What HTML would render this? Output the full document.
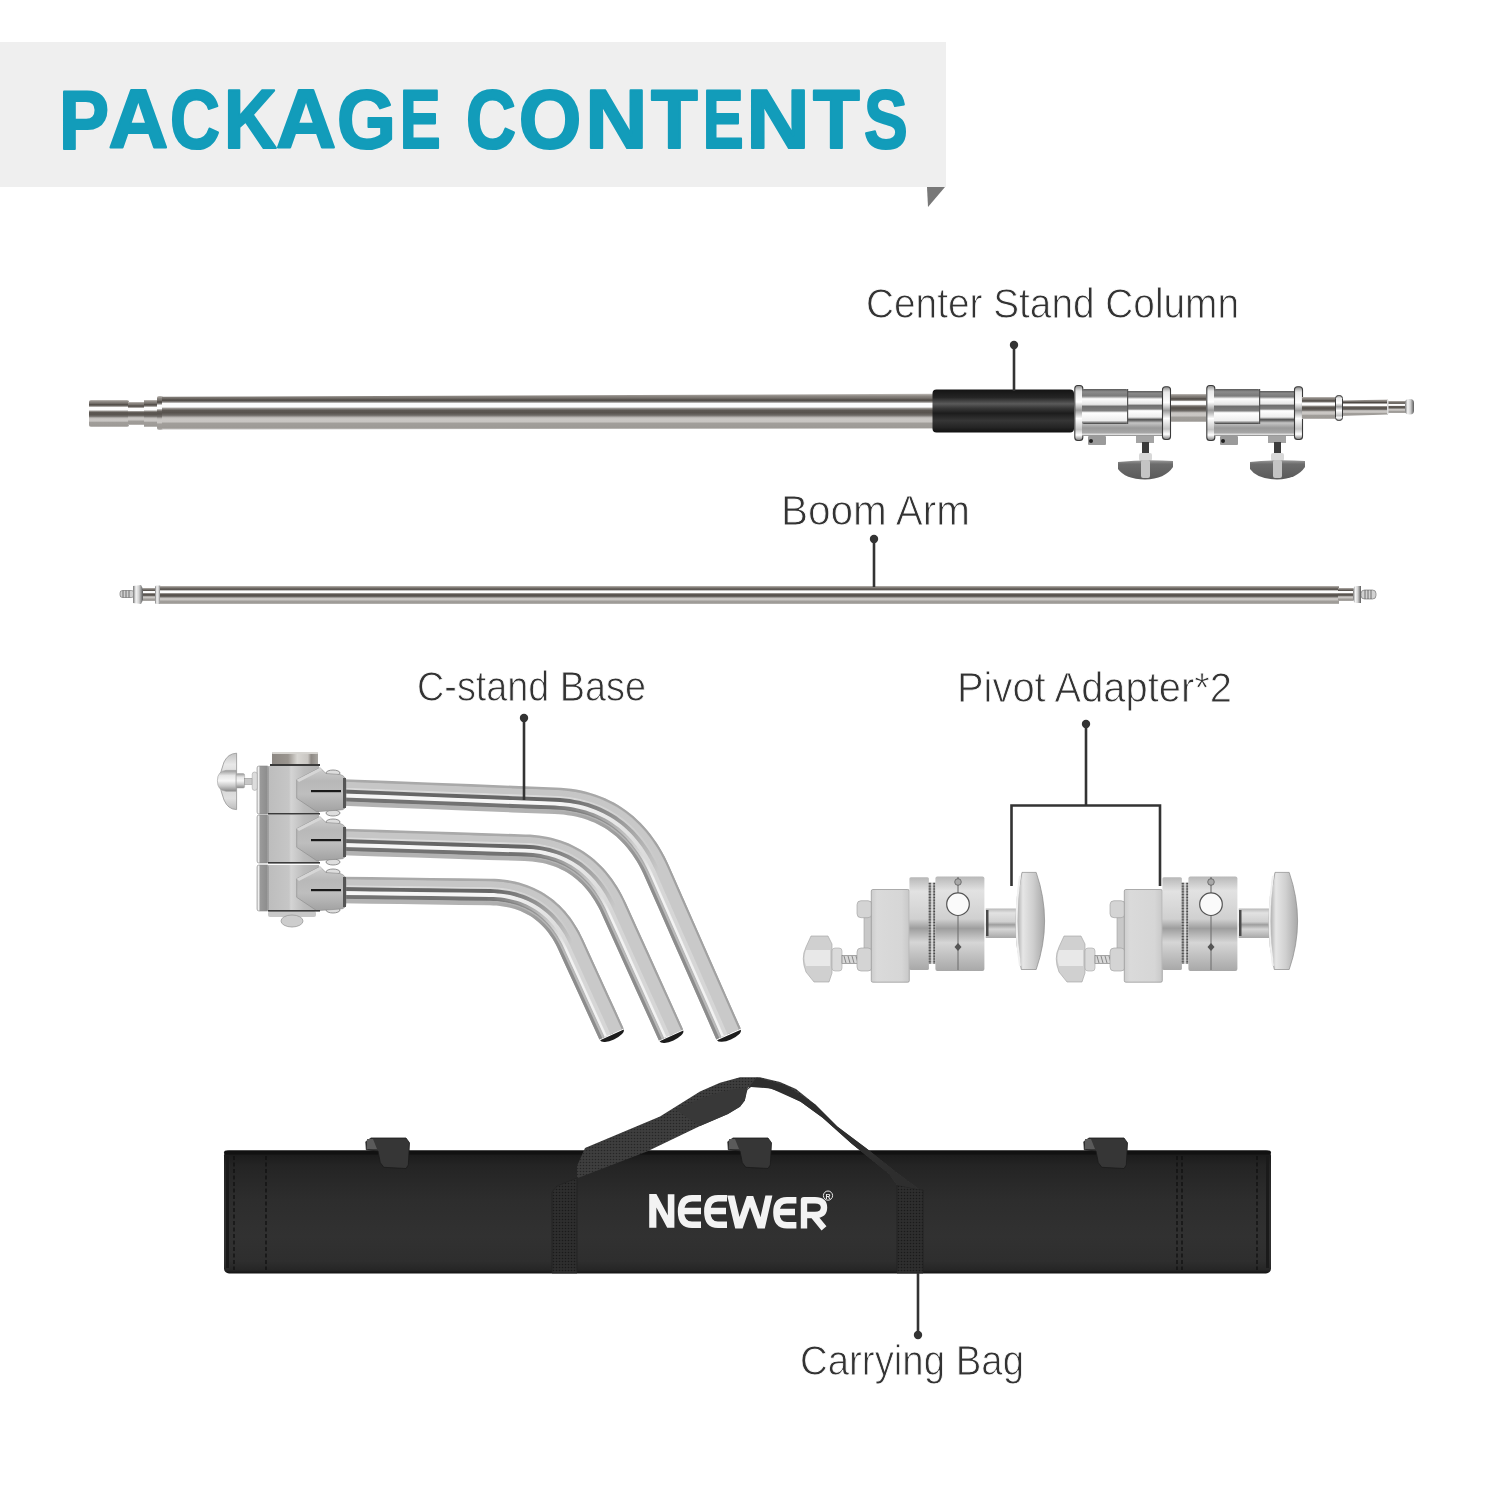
<!DOCTYPE html>
<html><head><meta charset="utf-8"><title>Package Contents</title>
<style>
html,body{margin:0;padding:0;background:#fff;}
body{width:1500px;height:1500px;overflow:hidden;position:relative;}
svg{position:absolute;left:0;top:0;will-change:transform;}
text{font-family:"Liberation Sans",sans-serif;}
</style></head><body>
<svg width="1500" height="1500" viewBox="0 0 1500 1500">
<defs>
<linearGradient id="tube" x1="0" y1="0" x2="0" y2="1">
 <stop offset="0" stop-color="#c0bcb8"/>
 <stop offset="0.06" stop-color="#8d8883"/>
 <stop offset="0.12" stop-color="#77726d"/>
 <stop offset="0.18" stop-color="#4c4742"/>
 <stop offset="0.23" stop-color="#8a8682"/>
 <stop offset="0.27" stop-color="#fdfdfd"/>
 <stop offset="0.37" stop-color="#fdfdfd"/>
 <stop offset="0.41" stop-color="#9a9692"/>
 <stop offset="0.46" stop-color="#5e5954"/>
 <stop offset="0.53" stop-color="#58534e"/>
 <stop offset="0.6" stop-color="#6e6a66"/>
 <stop offset="0.66" stop-color="#b8b5b2"/>
 <stop offset="0.7" stop-color="#cac7c4"/>
 <stop offset="0.78" stop-color="#c8c5c2"/>
 <stop offset="0.83" stop-color="#a19e9a"/>
 <stop offset="0.95" stop-color="#9d9a96"/>
 <stop offset="1" stop-color="#c6c4c2"/>
</linearGradient>
<linearGradient id="chrome" x1="0" y1="0" x2="0" y2="1">
 <stop offset="0" stop-color="#9a9a9a"/>
 <stop offset="0.12" stop-color="#e8e8e8"/>
 <stop offset="0.25" stop-color="#7c7c7c"/>
 <stop offset="0.38" stop-color="#fafafa"/>
 <stop offset="0.5" stop-color="#8a8a8a"/>
 <stop offset="0.62" stop-color="#f4f4f4"/>
 <stop offset="0.78" stop-color="#a8a8a8"/>
 <stop offset="0.9" stop-color="#d8d8d8"/>
 <stop offset="1" stop-color="#8a8a8a"/>
</linearGradient>
<linearGradient id="grip" x1="0" y1="0" x2="0" y2="1">
 <stop offset="0" stop-color="#141414"/>
 <stop offset="0.18" stop-color="#242424"/>
 <stop offset="0.33" stop-color="#5a5a5a"/>
 <stop offset="0.43" stop-color="#383838"/>
 <stop offset="0.55" stop-color="#1c1c1c"/>
 <stop offset="0.72" stop-color="#363636"/>
 <stop offset="0.88" stop-color="#242424"/>
 <stop offset="1" stop-color="#101010"/>
</linearGradient>
<linearGradient id="drum" x1="0" y1="0" x2="0" y2="1">
 <stop offset="0" stop-color="#b8b8b8"/>
 <stop offset="0.15" stop-color="#e2e2e2"/>
 <stop offset="0.45" stop-color="#d0d0d0"/>
 <stop offset="0.55" stop-color="#9e9e9e"/>
 <stop offset="0.7" stop-color="#d6d6d6"/>
 <stop offset="1" stop-color="#a8a8a8"/>
</linearGradient>
<linearGradient id="block" x1="0" y1="0" x2="1" y2="0">
 <stop offset="0" stop-color="#c4c4c4"/>
 <stop offset="0.5" stop-color="#d2d2d2"/>
 <stop offset="1" stop-color="#b8b8b8"/>
</linearGradient>
<linearGradient id="bag" x1="0" y1="0" x2="0" y2="1">
 <stop offset="0" stop-color="#161616"/>
 <stop offset="0.04" stop-color="#1c1c1c"/>
 <stop offset="0.12" stop-color="#242424"/>
 <stop offset="0.4" stop-color="#2d2d2d"/>
 <stop offset="0.7" stop-color="#313131"/>
 <stop offset="0.9" stop-color="#2e2e2e"/>
 <stop offset="0.97" stop-color="#262626"/>
 <stop offset="1" stop-color="#121212"/>
</linearGradient>
<pattern id="web" x="0" y="0" width="3" height="3" patternUnits="userSpaceOnUse">
 <rect width="3" height="3" fill="#3e3e3e"/>
 <circle cx="1.5" cy="1.5" r="0.8" fill="#262626"/>
</pattern>
<pattern id="webv" x="0" y="0" width="3" height="3" patternUnits="userSpaceOnUse">
 <rect width="3" height="3" fill="#2e2e2e"/>
 <circle cx="1.5" cy="1.5" r="0.8" fill="#1a1a1a"/>
</pattern>
<linearGradient id="clampg" x1="0" y1="0" x2="0" y2="1">
 <stop offset="0" stop-color="#5a5a5a"/>
 <stop offset="0.08" stop-color="#8a8a8a"/>
 <stop offset="0.2" stop-color="#7a7a7a"/>
 <stop offset="0.28" stop-color="#fdfdfd"/>
 <stop offset="0.44" stop-color="#e6e6e6"/>
 <stop offset="0.5" stop-color="#707070"/>
 <stop offset="0.62" stop-color="#7e7e7e"/>
 <stop offset="0.68" stop-color="#ffffff"/>
 <stop offset="0.9" stop-color="#eeeeee"/>
 <stop offset="1" stop-color="#3a3a3a"/>
</linearGradient>
<linearGradient id="clamplow" x1="0" y1="0" x2="0" y2="1">
 <stop offset="0" stop-color="#5a5a5a"/>
 <stop offset="0.18" stop-color="#c4c4c4"/>
 <stop offset="0.5" stop-color="#999"/>
 <stop offset="0.8" stop-color="#a6a6a6"/>
 <stop offset="0.9" stop-color="#e4e4e4"/>
 <stop offset="1" stop-color="#777"/>
</linearGradient>
<linearGradient id="ring" x1="0" y1="0" x2="1" y2="0">
 <stop offset="0" stop-color="#777"/>
 <stop offset="0.3" stop-color="#f4f4f4"/>
 <stop offset="0.6" stop-color="#d0d0d0"/>
 <stop offset="1" stop-color="#5a5a5a"/>
</linearGradient>
<linearGradient id="capg" x1="0" y1="0" x2="1" y2="0">
 <stop offset="0" stop-color="#8c8782"/>
 <stop offset="0.35" stop-color="#9a958f"/>
 <stop offset="0.55" stop-color="#d8d6d2"/>
 <stop offset="0.78" stop-color="#c9c6c2"/>
 <stop offset="0.85" stop-color="#8e8984"/>
 <stop offset="1" stop-color="#a8a5a0"/>
</linearGradient>
<linearGradient id="plate" x1="0" y1="0" x2="1" y2="0">
 <stop offset="0" stop-color="#cfcfcf"/>
 <stop offset="0.12" stop-color="#f2f2f2"/>
 <stop offset="0.28" stop-color="#9a9a9a"/>
 <stop offset="0.8" stop-color="#8e8e8e"/>
 <stop offset="1" stop-color="#b4b4b4"/>
</linearGradient>
<linearGradient id="hubblock" x1="0" y1="0" x2="1" y2="0">
 <stop offset="0" stop-color="#bdbdbd"/>
 <stop offset="0.4" stop-color="#c6c6c6"/>
 <stop offset="0.44" stop-color="#d4d4d4"/>
 <stop offset="0.7" stop-color="#bcbcbc"/>
 <stop offset="1" stop-color="#b0b0b0"/>
</linearGradient>
<linearGradient id="socket" x1="0" y1="0" x2="0" y2="1">
 <stop offset="0" stop-color="#cfcfcf"/>
 <stop offset="0.3" stop-color="#b8b8b8"/>
 <stop offset="0.6" stop-color="#bebebe"/>
 <stop offset="1" stop-color="#a2a2a2"/>
</linearGradient>
<linearGradient id="disc" x1="0" y1="0" x2="1" y2="0">
 <stop offset="0" stop-color="#9e9e9e"/>
 <stop offset="0.25" stop-color="#e6e6e6"/>
 <stop offset="0.6" stop-color="#cfcfcf"/>
 <stop offset="1" stop-color="#a8a8a8"/>
</linearGradient>
<linearGradient id="padblock" x1="0" y1="0" x2="1" y2="0">
 <stop offset="0" stop-color="#cdcdcd"/>
 <stop offset="0.15" stop-color="#dadada"/>
 <stop offset="0.8" stop-color="#d6d6d6"/>
 <stop offset="1" stop-color="#c8c8c8"/>
</linearGradient>
<pattern id="knurl" x="0" y="0" width="7" height="2.8" patternUnits="userSpaceOnUse">
 <rect width="7" height="2.8" fill="#b8b8b8"/>
 <rect x="3" width="1.2" height="2.8" fill="#f4f4f4"/>
 <circle cx="1.4" cy="1.4" r="1" fill="#262626"/>
 <circle cx="5.7" cy="1.4" r="1" fill="#262626"/>
</pattern>
<linearGradient id="wing" x1="0" y1="0" x2="0" y2="1">
 <stop offset="0" stop-color="#9a9a9a"/>
 <stop offset="0.2" stop-color="#6c6c6c"/>
 <stop offset="1" stop-color="#5a5a5a"/>
</linearGradient>
<linearGradient id="wingk" x1="0" y1="0" x2="0" y2="1">
 <stop offset="0" stop-color="#c4c4c4"/>
 <stop offset="0.2" stop-color="#e8e8e8"/>
 <stop offset="0.5" stop-color="#d0d0d0"/>
 <stop offset="0.8" stop-color="#e0e0e0"/>
 <stop offset="1" stop-color="#bdbdbd"/>
</linearGradient>
<linearGradient id="hubk" x1="0" y1="0" x2="0" y2="1">
 <stop offset="0" stop-color="#9a9a9a"/>
 <stop offset="0.25" stop-color="#e6e6e6"/>
 <stop offset="0.5" stop-color="#f6f6f6"/>
 <stop offset="0.75" stop-color="#c8c8c8"/>
 <stop offset="1" stop-color="#8a8a8a"/>
</linearGradient>
<linearGradient id="ring2" x1="0" y1="0" x2="0" y2="1">
 <stop offset="0" stop-color="#8a8a8a"/>
 <stop offset="0.1" stop-color="#e8e8e8"/>
 <stop offset="0.3" stop-color="#ffffff"/>
 <stop offset="0.45" stop-color="#9a9a9a"/>
 <stop offset="0.6" stop-color="#ffffff"/>
 <stop offset="0.8" stop-color="#c4c4c4"/>
 <stop offset="0.9" stop-color="#ffffff"/>
 <stop offset="1" stop-color="#7a7a7a"/>
</linearGradient>
</defs>
<rect x="0" y="42" width="946" height="145" fill="#efefef"/>
<path d="M927 187 L945 187 L928 207 Z" fill="#787878"/>
<text transform="translate(59 0) scale(0.8928 1)" x="0" y="148.5" font-size="84" font-weight="bold" fill="#129cba" stroke="#129cba" stroke-width="2.2" stroke-linejoin="round">P</text>
<text transform="translate(108.4 0) scale(0.9841 1)" x="0" y="148.5" font-size="84" font-weight="bold" fill="#129cba" stroke="#129cba" stroke-width="2.2" stroke-linejoin="round">A</text>
<text transform="translate(170.1 0) scale(0.8239 1)" x="0" y="148.5" font-size="84" font-weight="bold" fill="#129cba" stroke="#129cba" stroke-width="2.2" stroke-linejoin="round">C</text>
<text transform="translate(224.1 0) scale(0.8680 1)" x="0" y="148.5" font-size="84" font-weight="bold" fill="#129cba" stroke="#129cba" stroke-width="2.2" stroke-linejoin="round">K</text>
<text transform="translate(276 0) scale(0.9910 1)" x="0" y="148.5" font-size="84" font-weight="bold" fill="#129cba" stroke="#129cba" stroke-width="2.2" stroke-linejoin="round">A</text>
<text transform="translate(336.9 0) scale(0.9010 1)" x="0" y="148.5" font-size="84" font-weight="bold" fill="#129cba" stroke="#129cba" stroke-width="2.2" stroke-linejoin="round">G</text>
<text transform="translate(399.7 0) scale(0.7296 1)" x="0" y="148.5" font-size="84" font-weight="bold" fill="#129cba" stroke="#129cba" stroke-width="2.2" stroke-linejoin="round">E</text>
<text transform="translate(466.1 0) scale(0.8239 1)" x="0" y="148.5" font-size="84" font-weight="bold" fill="#129cba" stroke="#129cba" stroke-width="2.2" stroke-linejoin="round">C</text>
<text transform="translate(518.7 0) scale(0.9586 1)" x="0" y="148.5" font-size="84" font-weight="bold" fill="#129cba" stroke="#129cba" stroke-width="2.2" stroke-linejoin="round">O</text>
<text transform="translate(585.3 0) scale(1.0269 1)" x="0" y="148.5" font-size="84" font-weight="bold" fill="#129cba" stroke="#129cba" stroke-width="2.2" stroke-linejoin="round">N</text>
<text transform="translate(651.1 0) scale(0.9106 1)" x="0" y="148.5" font-size="84" font-weight="bold" fill="#129cba" stroke="#129cba" stroke-width="2.2" stroke-linejoin="round">T</text>
<text transform="translate(702.7 0) scale(0.7296 1)" x="0" y="148.5" font-size="84" font-weight="bold" fill="#129cba" stroke="#129cba" stroke-width="2.2" stroke-linejoin="round">E</text>
<text transform="translate(746.3 0) scale(1.0463 1)" x="0" y="148.5" font-size="84" font-weight="bold" fill="#129cba" stroke="#129cba" stroke-width="2.2" stroke-linejoin="round">N</text>
<text transform="translate(813.1 0) scale(0.9106 1)" x="0" y="148.5" font-size="84" font-weight="bold" fill="#129cba" stroke="#129cba" stroke-width="2.2" stroke-linejoin="round">T</text>
<text transform="translate(863.9 0) scale(0.7809 1)" x="0" y="148.5" font-size="84" font-weight="bold" fill="#129cba" stroke="#129cba" stroke-width="2.2" stroke-linejoin="round">S</text>
<text x="866" y="318" fill="#333" font-size="42.5" stroke="#fff" stroke-width="0.9" textLength="373" lengthAdjust="spacingAndGlyphs">Center Stand Column</text>
<text x="781" y="524.5" fill="#333" font-size="42.5" stroke="#fff" stroke-width="0.9" textLength="189" lengthAdjust="spacingAndGlyphs">Boom Arm</text>
<text x="417" y="701" fill="#333" font-size="42.5" stroke="#fff" stroke-width="0.9" textLength="229" lengthAdjust="spacingAndGlyphs">C-stand Base</text>
<text x="957" y="701.6" fill="#333" font-size="42.5" stroke="#fff" stroke-width="0.9" textLength="275" lengthAdjust="spacingAndGlyphs">Pivot Adapter*2</text>
<text x="800" y="1375" fill="#333" font-size="42.5" stroke="#fff" stroke-width="0.9" textLength="224" lengthAdjust="spacingAndGlyphs">Carrying Bag</text>
<g id="column">
<rect x="89" y="400" width="40" height="27" rx="2" fill="url(#tube)"/>
<rect x="128" y="402" width="16" height="23" fill="url(#tube)"/>
<rect x="144" y="400" width="14" height="27" fill="url(#tube)"/>
<rect x="157" y="396" width="6" height="34" rx="2" fill="url(#tube)"/>
<path d="M162 396.8 L934 393.8 L934 428.5 L162 429.5 Z" fill="url(#tube)"/>
<rect x="932.5" y="389.6" width="141.5" height="43" rx="4" fill="url(#grip)"/>
<rect x="1088" y="436" width="18" height="9" rx="1" fill="#9a9a9a"/>
<circle cx="1091" cy="441" r="2" fill="#222"/>
<rect x="1136" y="436" width="18" height="7" fill="#a4a4a4"/>
<rect x="1142" y="442" width="7" height="14" fill="#3c3c3c"/>
<rect x="1139" y="453" width="13" height="8" rx="2" fill="#d8d8d8"/>
<path d="M1118 462 Q1145 459 1173 461 L1173 467 Q1165 479 1145 479.5 Q1125 479 1118 469 Z" fill="url(#wing)"/>
<rect x="1141" y="460" width="9" height="18" rx="2" fill="#c4c4c4"/>
<rect x="1074.8" y="385.5" width="8" height="55" rx="3" fill="url(#ring2)" stroke="#3a3a3a" stroke-width="1.1"/>
<rect x="1082" y="420" width="80" height="16" fill="url(#clamplow)"/>
<rect x="1082" y="389" width="46" height="35" rx="2" fill="url(#clampg)"/>
<rect x="1128" y="391" width="34" height="29" fill="url(#clampg)"/>
<rect x="1127" y="389" width="1.2" height="35" fill="#555"/>
<rect x="1162.5" y="386.8" width="8" height="52.7" rx="3" fill="url(#ring2)" stroke="#3a3a3a" stroke-width="1.1"/>
<rect x="1220" y="436" width="18" height="9" rx="1" fill="#9a9a9a"/>
<circle cx="1223" cy="441" r="2" fill="#222"/>
<rect x="1268" y="436" width="18" height="7" fill="#a4a4a4"/>
<rect x="1274" y="442" width="7" height="14" fill="#3c3c3c"/>
<rect x="1271" y="453" width="13" height="8" rx="2" fill="#d8d8d8"/>
<path d="M1250 462 Q1277 459 1305 461 L1305 467 Q1297 479 1277 479.5 Q1257 479 1250 469 Z" fill="url(#wing)"/>
<rect x="1273" y="460" width="9" height="18" rx="2" fill="#c4c4c4"/>
<rect x="1206.8" y="385.5" width="8" height="55" rx="3" fill="url(#ring2)" stroke="#3a3a3a" stroke-width="1.1"/>
<rect x="1214" y="420" width="80" height="16" fill="url(#clamplow)"/>
<rect x="1214" y="389" width="46" height="35" rx="2" fill="url(#clampg)"/>
<rect x="1260" y="391" width="34" height="29" fill="url(#clampg)"/>
<rect x="1259" y="389" width="1.2" height="35" fill="#555"/>
<rect x="1294.5" y="386.8" width="8" height="52.7" rx="3" fill="url(#ring2)" stroke="#3a3a3a" stroke-width="1.1"/>
<rect x="1171" y="394" width="35" height="28" fill="url(#tube)"/>
<rect x="1302" y="397" width="35" height="22" fill="url(#tube)"/>
<rect x="1335.5" y="395.5" width="7" height="25" rx="3" fill="url(#ring2)" stroke="#3a3a3a" stroke-width="1"/>
<path d="M1343 400.5 L1388 399.6 L1388 414.5 L1343 416 Z" fill="url(#tube)"/>
<rect x="1387" y="401" width="19" height="12" fill="url(#tube)"/>
<rect x="1387" y="400" width="1.5" height="14" fill="#ddd"/>
<rect x="1405" y="399" width="9" height="15.5" rx="4" fill="url(#ring)"/>
</g>
<line x1="1014" y1="345" x2="1014" y2="391" stroke="#333" stroke-width="2.6"/>
<circle cx="1014" cy="345" r="4.2" fill="#333"/>
<g id="boom">
<rect x="120" y="590.5" width="14" height="7" rx="2.5" fill="#cfcfcf" stroke="#666" stroke-width="0.6"/>
<path d="M123 590.5 V597.5 M126 590.5 V597.5 M129 590.5 V597.5" stroke="#555" stroke-width="0.8"/>
<path d="M133 586 L141 585 L143 589 L143 600 L141 604 L133 603 Z" fill="url(#ring)"/>
<rect x="143" y="588" width="13" height="13" fill="url(#tube)"/>
<rect x="155" y="585.5" width="6" height="18.5" rx="1.5" fill="url(#ring)"/>
<rect x="160" y="586" width="1179" height="18" fill="url(#tube)"/>
<rect x="1338" y="588" width="15" height="13" fill="url(#tube)"/>
<path d="M1353 589 L1355 586 L1361 586 L1361 603 L1355 603 L1353 600 Z" fill="url(#ring)"/>
<rect x="1361" y="590" width="15" height="9" rx="3.5" fill="#d2d2d2" stroke="#666" stroke-width="0.6"/>
<path d="M1365 590 V599 M1368 590 V599 M1371 590 V599" stroke="#555" stroke-width="0.8"/>
</g>
<line x1="874" y1="539" x2="874" y2="587" stroke="#333" stroke-width="2.6"/>
<circle cx="874" cy="539" r="4.2" fill="#333"/>
<g id="cstand">
<path d="M343.5 779.2 L385.9 780.8 L428.3 782.5 L470.7 784.1 L513.1 785.8 L555.5 787.4 L560.9 787.7 L566.1 788.2 L571.3 788.8 L576.4 789.6 L581.4 790.6 L586.3 791.8 L591.2 793.2 L595.9 794.7 L600.5 796.4 L605.1 798.3 L609.5 800.4 L613.8 802.6 L618 805.1 L622.2 807.7 L626.1 810.5 L630 813.4 L633.8 816.6 L637.4 819.9 L640.9 823.3 L644.3 827 L647.6 830.8 L650.8 834.7 L653.8 838.9 L656.7 843.1 L659.5 847.5 L662.1 852.1 L664.7 856.8 L667.1 861.7 L669.4 866.7 L683.6 899.1 L697.9 931.5 L712.2 963.9 L726.4 996.3 L740.7 1028.6 L737.7 1029.9 L723.5 997.5 L709.2 965.2 L695 932.8 L680.7 900.4 L666.4 868 L664.2 863.1 L661.8 858.3 L659.3 853.7 L656.7 849.2 L654 844.9 L651.2 840.7 L648.2 836.7 L645.1 832.8 L642 829.1 L638.6 825.6 L635.2 822.2 L631.7 819 L628 815.9 L624.3 813 L620.4 810.3 L616.4 807.8 L612.3 805.4 L608.1 803.2 L603.8 801.2 L599.4 799.4 L594.8 797.7 L590.2 796.2 L585.5 794.9 L580.7 793.8 L575.8 792.8 L570.9 792 L565.8 791.4 L560.6 790.9 L555.4 790.6 L513 789 L470.6 787.3 L428.2 785.7 L385.8 784 L343.4 782.4Z" fill="#a9a9a9"/>
<path d="M343.4 781.8 L385.8 783.4 L428.2 785.1 L470.6 786.7 L513 788.4 L555.4 790 L560.7 790.3 L565.9 790.8 L571 791.4 L576 792.2 L580.9 793.2 L585.7 794.3 L590.4 795.6 L595 797.1 L599.6 798.8 L604 800.7 L608.3 802.7 L612.6 804.9 L616.7 807.3 L620.7 809.8 L624.6 812.6 L628.4 815.5 L632.1 818.5 L635.6 821.8 L639.1 825.2 L642.4 828.7 L645.6 832.4 L648.7 836.3 L651.7 840.4 L654.5 844.5 L657.2 848.9 L659.8 853.4 L662.3 858 L664.7 862.8 L667 867.8 L681.3 900.2 L695.5 932.5 L709.8 964.9 L724 997.3 L738.3 1029.7 L732.3 1032.3 L718 1000 L703.8 967.6 L689.5 935.2 L675.2 902.8 L661 870.4 L658.8 865.7 L656.5 861.1 L654.1 856.6 L651.6 852.3 L649 848.1 L646.3 844.2 L643.5 840.3 L640.5 836.6 L637.5 833.1 L634.4 829.7 L631.1 826.5 L627.8 823.5 L624.3 820.6 L620.7 817.9 L617.1 815.3 L613.3 812.9 L609.4 810.7 L605.4 808.6 L601.4 806.7 L597.2 804.9 L592.9 803.4 L588.5 801.9 L584 800.7 L579.5 799.6 L574.8 798.7 L570 797.9 L565.2 797.3 L560.2 796.9 L555.2 796.6 L512.8 794.9 L470.4 793.3 L428 791.7 L385.6 790 L343.2 788.4Z" fill="#c6c6c6"/>
<path d="M343.2 787.8 L385.6 789.4 L428 791.1 L470.4 792.7 L512.8 794.3 L555.2 796 L560.3 796.3 L565.2 796.7 L570.1 797.3 L574.9 798.1 L579.6 799 L584.2 800.1 L588.7 801.4 L593.1 802.8 L597.4 804.4 L601.6 806.1 L605.7 808.1 L609.7 810.1 L613.6 812.4 L617.4 814.8 L621.1 817.4 L624.7 820.1 L628.1 823 L631.5 826.1 L634.8 829.3 L637.9 832.7 L641 836.3 L643.9 840 L646.8 843.8 L649.5 847.8 L652.1 852 L654.6 856.3 L657 860.8 L659.3 865.4 L661.5 870.2 L675.8 902.6 L690 935 L704.3 967.3 L718.6 999.7 L732.8 1032.1 L730.6 1033.1 L716.3 1000.7 L702.1 968.3 L687.8 935.9 L673.6 903.6 L659.3 871.2 L657.1 866.5 L654.9 861.9 L652.5 857.5 L650 853.2 L647.5 849.1 L644.8 845.2 L642 841.4 L639.1 837.8 L636.1 834.3 L633.1 831 L629.9 827.9 L626.6 824.9 L623.2 822 L619.7 819.3 L616.1 816.8 L612.3 814.5 L608.5 812.3 L604.6 810.2 L600.6 808.4 L596.5 806.6 L592.3 805.1 L588 803.7 L583.6 802.4 L579.1 801.4 L574.5 800.5 L569.8 799.7 L565 799.1 L560.1 798.7 L555.1 798.4 L512.7 796.8 L470.3 795.1 L427.9 793.5 L385.5 791.8 L343.1 790.2Z" fill="#dadada"/>
<path d="M343.1 789.6 L385.5 791.2 L427.9 792.9 L470.3 794.5 L512.7 796.2 L555.1 797.8 L560.1 798.1 L565 798.5 L569.9 799.1 L574.6 799.9 L579.2 800.8 L583.7 801.9 L588.2 803.1 L592.5 804.5 L596.7 806.1 L600.9 807.8 L604.9 809.7 L608.8 811.7 L612.7 814 L616.4 816.3 L620 818.9 L623.5 821.6 L627 824.4 L630.3 827.4 L633.5 830.6 L636.6 833.9 L639.6 837.4 L642.5 841.1 L645.3 844.9 L648 848.8 L650.6 852.9 L653 857.2 L655.4 861.6 L657.7 866.2 L659.9 870.9 L674.1 903.3 L688.4 935.7 L702.6 968.1 L716.9 1000.5 L731.2 1032.8 L727 1034.6 L712.8 1002.3 L698.5 969.9 L684.3 937.5 L670 905.1 L655.7 872.7 L653.6 868.1 L651.4 863.7 L649.1 859.4 L646.7 855.3 L644.2 851.3 L641.6 847.5 L638.9 843.8 L636.1 840.3 L633.2 836.9 L630.3 833.7 L627.2 830.7 L624 827.8 L620.7 825.1 L617.4 822.5 L613.9 820.1 L610.3 817.8 L606.7 815.7 L602.9 813.7 L599 811.9 L595.1 810.3 L591 808.8 L586.9 807.4 L582.6 806.2 L578.2 805.2 L573.8 804.3 L569.2 803.6 L564.6 803 L559.8 802.6 L554.9 802.3 L512.5 800.7 L470.1 799 L427.7 797.4 L385.3 795.7 L342.9 794.1Z" fill="#666666"/>
<path d="M343 793.5 L385.4 795.1 L427.8 796.8 L470.2 798.4 L512.6 800.1 L555 801.7 L559.8 802 L564.6 802.4 L569.3 803 L573.9 803.7 L578.4 804.6 L582.8 805.6 L587 806.8 L591.2 808.2 L595.3 809.7 L599.3 811.4 L603.2 813.2 L606.9 815.2 L610.6 817.3 L614.2 819.6 L617.7 822 L621.1 824.6 L624.4 827.3 L627.6 830.3 L630.7 833.3 L633.7 836.5 L636.6 839.9 L639.4 843.4 L642.1 847.1 L644.7 850.9 L647.2 854.9 L649.6 859.1 L651.9 863.4 L654.2 867.9 L656.3 872.5 L670.5 904.9 L684.8 937.3 L699.1 969.6 L713.3 1002 L727.6 1034.4 L723.5 1036.2 L709.2 1003.8 L694.9 971.5 L680.7 939.1 L666.4 906.7 L652.2 874.3 L650.1 869.8 L647.9 865.5 L645.7 861.3 L643.4 857.3 L640.9 853.4 L638.4 849.7 L635.8 846.2 L633.1 842.8 L630.3 839.5 L627.5 836.4 L624.5 833.5 L621.4 830.7 L618.3 828.1 L615.1 825.6 L611.7 823.3 L608.3 821.1 L604.8 819.1 L601.2 817.2 L597.5 815.5 L593.7 813.9 L589.7 812.4 L585.7 811.2 L581.6 810 L577.4 809 L573.1 808.1 L568.7 807.4 L564.2 806.9 L559.5 806.5 L554.8 806.2 L512.4 804.6 L470 802.9 L427.6 801.3 L385.2 799.6 L342.8 798Z" fill="#f6f6f6"/>
<path d="M342.8 797.4 L385.2 799 L427.6 800.7 L470 802.3 L512.4 804 L554.8 805.6 L559.6 805.9 L564.2 806.3 L568.8 806.8 L573.2 807.5 L577.5 808.4 L581.8 809.4 L585.9 810.6 L589.9 811.9 L593.9 813.3 L597.7 814.9 L601.4 816.7 L605.1 818.6 L608.6 820.6 L612.1 822.8 L615.4 825.2 L618.7 827.6 L621.8 830.3 L624.9 833.1 L627.9 836 L630.8 839.1 L633.6 842.4 L636.3 845.8 L638.9 849.4 L641.4 853.1 L643.9 857 L646.2 861 L648.5 865.2 L650.6 869.6 L652.7 874.1 L667 906.5 L681.2 938.8 L695.5 971.2 L709.8 1003.6 L724 1036 L719.9 1037.8 L705.6 1005.4 L691.4 973 L677.1 940.6 L662.9 908.3 L648.6 875.9 L646.6 871.5 L644.5 867.3 L642.3 863.2 L640 859.3 L637.7 855.5 L635.2 852 L632.7 848.5 L630.1 845.3 L627.4 842.1 L624.7 839.2 L621.8 836.3 L618.9 833.7 L615.9 831.2 L612.8 828.8 L609.6 826.6 L606.3 824.5 L602.9 822.5 L599.4 820.7 L595.9 819.1 L592.2 817.5 L588.5 816.1 L584.6 814.9 L580.6 813.8 L576.6 812.8 L572.4 812 L568.1 811.3 L563.7 810.7 L559.2 810.3 L554.6 810.1 L512.2 808.5 L469.8 806.8 L427.4 805.2 L385 803.5 L342.6 801.9Z" fill="#727272"/>
<path d="M342.7 801.3 L385.1 802.9 L427.5 804.6 L469.9 806.2 L512.3 807.9 L554.6 809.5 L559.3 809.7 L563.8 810.1 L568.2 810.7 L572.5 811.4 L576.7 812.2 L580.8 813.2 L584.8 814.3 L588.7 815.6 L592.4 817 L596.1 818.5 L599.7 820.2 L603.2 822 L606.6 824 L609.9 826.1 L613.1 828.3 L616.2 830.7 L619.3 833.2 L622.2 835.9 L625.1 838.7 L627.9 841.7 L630.6 844.9 L633.2 848.2 L635.7 851.6 L638.2 855.2 L640.5 859 L642.8 862.9 L645 867 L647.1 871.2 L649.2 875.7 L663.4 908 L677.7 940.4 L691.9 972.8 L706.2 1005.2 L720.4 1037.5 L716.3 1039.4 L702.1 1007 L687.8 974.6 L673.5 942.2 L659.3 909.8 L645 877.5 L643.1 873.2 L641 869.1 L638.9 865.1 L636.7 861.3 L634.4 857.7 L632.1 854.2 L629.6 850.9 L627.1 847.7 L624.5 844.7 L621.9 841.9 L619.1 839.2 L616.3 836.6 L613.4 834.2 L610.4 831.9 L607.4 829.8 L604.3 827.8 L601 825.9 L597.7 824.2 L594.3 822.6 L590.8 821.2 L587.2 819.8 L583.5 818.6 L579.7 817.6 L575.7 816.6 L571.7 815.8 L567.6 815.2 L563.3 814.6 L559 814.2 L554.5 814 L512.1 812.4 L469.7 810.7 L427.3 809.1 L384.9 807.4 L342.5 805.8Z" fill="#b2b2b2"/>
<mask id="lm1" maskUnits="userSpaceOnUse" x="0" y="0" width="1500" height="1500"><linearGradient id="lg1" gradientUnits="userSpaceOnUse" x1="555" y1="800.7" x2="657.2" y2="872.1"><stop offset="0" stop-color="#000"/><stop offset="1" stop-color="#fff"/></linearGradient><rect x="0" y="0" width="1500" height="1500" fill="url(#lg1)"/></mask>
<g mask="url(#lm1)">
<path d="M343.5 779.2 L385.9 780.8 L428.3 782.5 L470.7 784.1 L513.1 785.8 L555.5 787.4 L560.9 787.7 L566.1 788.2 L571.3 788.8 L576.4 789.6 L581.4 790.6 L586.3 791.8 L591.2 793.2 L595.9 794.7 L600.5 796.4 L605.1 798.3 L609.5 800.4 L613.8 802.6 L618 805.1 L622.2 807.7 L626.1 810.5 L630 813.4 L633.8 816.6 L637.4 819.9 L640.9 823.3 L644.3 827 L647.6 830.8 L650.8 834.7 L653.8 838.9 L656.7 843.1 L659.5 847.5 L662.1 852.1 L664.7 856.8 L667.1 861.7 L669.4 866.7 L683.6 899.1 L697.9 931.5 L712.2 963.9 L726.4 996.3 L740.7 1028.6 L738.2 1029.7 L724 997.3 L709.7 965 L695.4 932.6 L681.2 900.2 L666.9 867.8 L664.7 862.9 L662.3 858.1 L659.8 853.4 L657.2 848.9 L654.4 844.6 L651.6 840.4 L648.6 836.4 L645.5 832.5 L642.3 828.8 L639 825.2 L635.6 821.8 L632 818.6 L628.4 815.5 L624.6 812.6 L620.7 809.9 L616.7 807.4 L612.5 805 L608.3 802.8 L604 800.7 L599.6 798.9 L595 797.2 L590.4 795.7 L585.7 794.4 L580.9 793.2 L575.9 792.3 L570.9 791.5 L565.9 790.8 L560.7 790.4 L555.4 790.1 L513 788.4 L470.6 786.8 L428.2 785.2 L385.8 783.5 L343.4 781.9Z" fill="#a2a2a2"/>
<path d="M343.4 781.3 L385.8 782.9 L428.2 784.6 L470.6 786.2 L513 787.8 L555.5 789.5 L560.7 789.8 L565.9 790.2 L571 790.9 L576 791.7 L581 792.7 L585.8 793.8 L590.6 795.1 L595.2 796.7 L599.8 798.3 L604.2 800.2 L608.6 802.2 L612.8 804.4 L617 806.8 L621 809.4 L624.9 812.1 L628.7 815.1 L632.4 818.1 L636 821.4 L639.4 824.8 L642.8 828.4 L646 832.1 L649.1 836 L652.1 840.1 L654.9 844.3 L657.7 848.6 L660.3 853.1 L662.8 857.8 L665.2 862.6 L667.5 867.6 L681.7 900 L696 932.3 L710.2 964.7 L724.5 997.1 L738.8 1029.5 L727 1034.6 L712.8 1002.3 L698.5 969.9 L684.3 937.5 L670 905.1 L655.7 872.7 L653.6 868.1 L651.4 863.7 L649.1 859.4 L646.7 855.3 L644.2 851.3 L641.6 847.5 L638.9 843.8 L636.1 840.3 L633.2 836.9 L630.3 833.7 L627.2 830.7 L624 827.8 L620.7 825.1 L617.4 822.5 L613.9 820.1 L610.3 817.8 L606.7 815.7 L602.9 813.7 L599 811.9 L595.1 810.3 L591 808.8 L586.9 807.4 L582.6 806.2 L578.2 805.2 L573.8 804.3 L569.2 803.6 L564.6 803 L559.8 802.6 L554.9 802.3 L512.5 800.7 L470.1 799 L427.7 797.4 L385.3 795.7 L342.9 794.1Z" fill="#c9c9c9"/>
<path d="M343 793.5 L385.4 795.1 L427.8 796.8 L470.2 798.4 L512.6 800.1 L555 801.7 L559.8 802 L564.6 802.4 L569.3 803 L573.9 803.7 L578.4 804.6 L582.8 805.6 L587 806.8 L591.2 808.2 L595.3 809.7 L599.3 811.4 L603.2 813.2 L606.9 815.2 L610.6 817.3 L614.2 819.6 L617.7 822 L621.1 824.6 L624.4 827.3 L627.6 830.3 L630.7 833.3 L633.7 836.5 L636.6 839.9 L639.4 843.4 L642.1 847.1 L644.7 850.9 L647.2 854.9 L649.6 859.1 L651.9 863.4 L654.2 867.9 L656.3 872.5 L670.5 904.9 L684.8 937.3 L699.1 969.6 L713.3 1002 L727.6 1034.4 L723.5 1036.2 L709.2 1003.8 L694.9 971.5 L680.7 939.1 L666.4 906.7 L652.2 874.3 L650.1 869.8 L647.9 865.5 L645.7 861.3 L643.4 857.3 L640.9 853.4 L638.4 849.7 L635.8 846.2 L633.1 842.8 L630.3 839.5 L627.5 836.4 L624.5 833.5 L621.4 830.7 L618.3 828.1 L615.1 825.6 L611.7 823.3 L608.3 821.1 L604.8 819.1 L601.2 817.2 L597.5 815.5 L593.7 813.9 L589.7 812.4 L585.7 811.2 L581.6 810 L577.4 809 L573.1 808.1 L568.7 807.4 L564.2 806.9 L559.5 806.5 L554.8 806.2 L512.4 804.6 L470 802.9 L427.6 801.3 L385.2 799.6 L342.8 798Z" fill="#d6d6d6"/>
<path d="M342.8 797.4 L385.2 799 L427.6 800.7 L470 802.3 L512.4 804 L554.8 805.6 L559.6 805.9 L564.2 806.3 L568.8 806.8 L573.2 807.5 L577.5 808.4 L581.8 809.4 L585.9 810.6 L589.9 811.9 L593.9 813.3 L597.7 814.9 L601.4 816.7 L605.1 818.6 L608.6 820.6 L612.1 822.8 L615.4 825.2 L618.7 827.6 L621.8 830.3 L624.9 833.1 L627.9 836 L630.8 839.1 L633.6 842.4 L636.3 845.8 L638.9 849.4 L641.4 853.1 L643.9 857 L646.2 861 L648.5 865.2 L650.6 869.6 L652.7 874.1 L667 906.5 L681.2 938.8 L695.5 971.2 L709.8 1003.6 L724 1036 L721.1 1037.3 L706.8 1004.9 L692.6 972.5 L678.3 940.1 L664 907.7 L649.8 875.4 L647.8 870.9 L645.6 866.7 L643.4 862.6 L641.1 858.6 L638.8 854.8 L636.3 851.2 L633.7 847.7 L631.1 844.4 L628.4 841.3 L625.6 838.3 L622.7 835.4 L619.7 832.7 L616.7 830.1 L613.5 827.7 L610.3 825.5 L607 823.4 L603.5 821.4 L600 819.6 L596.4 817.9 L592.7 816.3 L588.9 814.9 L585 813.6 L581 812.5 L576.9 811.5 L572.6 810.7 L568.3 810 L563.9 809.5 L559.3 809.1 L554.7 808.8 L512.3 807.2 L469.9 805.5 L427.5 803.9 L385.1 802.2 L342.7 800.6Z" fill="#f2f2f2"/>
<path d="M342.7 800 L385.1 801.6 L427.5 803.3 L469.9 804.9 L512.3 806.6 L554.7 808.2 L559.4 808.5 L563.9 808.9 L568.4 809.4 L572.7 810.1 L577 810.9 L581.1 811.9 L585.2 813.1 L589.1 814.3 L592.9 815.8 L596.6 817.3 L600.3 819 L603.8 820.9 L607.3 822.8 L610.6 825 L613.9 827.3 L617 829.7 L620.1 832.2 L623.1 835 L626 837.8 L628.8 840.9 L631.6 844 L634.2 847.4 L636.8 850.9 L639.3 854.5 L641.7 858.3 L644 862.3 L646.2 866.4 L648.3 870.7 L650.3 875.1 L664.6 907.5 L678.9 939.9 L693.1 972.3 L707.4 1004.6 L721.6 1037 L718.7 1038.3 L704.4 1005.9 L690.2 973.6 L675.9 941.2 L661.7 908.8 L647.4 876.4 L645.4 872.1 L643.3 867.9 L641.2 863.8 L638.9 860 L636.6 856.3 L634.2 852.7 L631.7 849.3 L629.1 846.1 L626.5 843 L623.7 840.1 L620.9 837.3 L618 834.7 L615 832.2 L612 829.8 L608.8 827.6 L605.6 825.6 L602.3 823.7 L598.9 821.9 L595.4 820.2 L591.7 818.7 L588 817.4 L584.2 816.1 L580.3 815 L576.3 814.1 L572.2 813.3 L567.9 812.6 L563.6 812 L559.1 811.6 L554.6 811.4 L512.2 809.8 L469.8 808.1 L427.4 806.5 L385 804.8 L342.6 803.2Z" fill="#b8b8b8"/>
<path d="M342.6 802.6 L385 804.2 L427.4 805.9 L469.8 807.5 L512.2 809.2 L554.6 810.8 L559.2 811 L563.7 811.4 L568 812 L572.3 812.7 L576.4 813.5 L580.5 814.5 L584.4 815.6 L588.2 816.8 L592 818.2 L595.6 819.7 L599.1 821.3 L602.6 823.1 L605.9 825.1 L609.2 827.1 L612.3 829.4 L615.4 831.7 L618.4 834.2 L621.3 836.9 L624.2 839.7 L626.9 842.6 L629.6 845.7 L632.2 848.9 L634.7 852.4 L637.1 855.9 L639.4 859.7 L641.7 863.5 L643.9 867.6 L646 871.8 L648 876.2 L662.2 908.6 L676.5 940.9 L690.7 973.3 L705 1005.7 L719.3 1038.1 L716.3 1039.4 L702.1 1007 L687.8 974.6 L673.5 942.2 L659.3 909.8 L645 877.5 L643.1 873.2 L641 869.1 L638.9 865.1 L636.7 861.3 L634.4 857.7 L632.1 854.2 L629.6 850.9 L627.1 847.7 L624.5 844.7 L621.9 841.9 L619.1 839.2 L616.3 836.6 L613.4 834.2 L610.4 831.9 L607.4 829.8 L604.3 827.8 L601 825.9 L597.7 824.2 L594.3 822.6 L590.8 821.2 L587.2 819.8 L583.5 818.6 L579.7 817.6 L575.7 816.6 L571.7 815.8 L567.6 815.2 L563.3 814.6 L559 814.2 L554.5 814 L512.1 812.4 L469.7 810.7 L427.3 809.1 L384.9 807.4 L342.5 805.8Z" fill="#8c8c8c"/>
</g>
<g transform="translate(728.9 1034.9) rotate(-23.8)"><path d="M-13 0 A13 5 0 0 0 13 0 Z" fill="#1c1c1c"/></g>
<path d="M343.4 828.7 L379.8 829.8 L416.2 831 L452.6 832.1 L489 833.3 L525.4 834.4 L530.1 834.6 L534.7 835 L539.2 835.5 L543.7 836.2 L548.1 837 L552.4 838 L556.6 839.2 L560.8 840.5 L564.9 842 L568.9 843.6 L572.8 845.4 L576.6 847.4 L580.3 849.5 L584 851.8 L587.5 854.2 L590.9 856.8 L594.3 859.5 L597.5 862.4 L600.6 865.4 L603.6 868.6 L606.6 871.9 L609.4 875.4 L612.1 879 L614.6 882.7 L617.1 886.6 L619.5 890.6 L621.8 894.7 L623.9 898.9 L626 903.3 L637.4 928.6 L648.9 953.8 L660.3 979 L671.7 1004.3 L683.1 1029.5 L680.2 1030.8 L668.8 1005.6 L657.4 980.4 L645.9 955.1 L634.5 929.9 L623.1 904.6 L621.1 900.3 L618.9 896.2 L616.7 892.1 L614.4 888.2 L612 884.5 L609.5 880.8 L606.8 877.3 L604.1 874 L601.3 870.8 L598.4 867.7 L595.3 864.7 L592.2 861.9 L589 859.3 L585.6 856.8 L582.2 854.4 L578.7 852.2 L575.1 850.2 L571.4 848.3 L567.6 846.6 L563.7 845 L559.8 843.5 L555.7 842.3 L551.6 841.1 L547.4 840.2 L543.1 839.4 L538.8 838.7 L534.4 838.2 L529.9 837.8 L525.3 837.6 L488.9 836.5 L452.5 835.3 L416.1 834.2 L379.7 833 L343.3 831.9Z" fill="#a9a9a9"/>
<path d="M343.3 831.3 L379.7 832.4 L416.1 833.6 L452.5 834.7 L488.9 835.9 L525.4 837 L529.9 837.2 L534.4 837.6 L538.9 838.1 L543.2 838.8 L547.5 839.6 L551.8 840.6 L555.9 841.7 L560 843 L563.9 844.4 L567.8 846 L571.7 847.8 L575.4 849.7 L579 851.7 L582.6 853.9 L586 856.3 L589.3 858.8 L592.6 861.5 L595.7 864.3 L598.8 867.3 L601.7 870.4 L604.6 873.6 L607.3 877 L609.9 880.5 L612.5 884.1 L614.9 887.9 L617.2 891.8 L619.5 895.9 L621.6 900.1 L623.6 904.4 L635.1 929.6 L646.5 954.9 L657.9 980.1 L669.3 1005.3 L680.7 1030.6 L674.8 1033.3 L663.3 1008.1 L651.9 982.8 L640.5 957.6 L629.1 932.3 L617.6 907.1 L615.7 903 L613.7 899 L611.5 895.1 L609.3 891.4 L607 887.8 L604.6 884.3 L602.1 881 L599.5 877.8 L596.9 874.8 L594.1 871.9 L591.3 869.1 L588.3 866.5 L585.3 864 L582.2 861.7 L578.9 859.4 L575.6 857.4 L572.3 855.5 L568.8 853.7 L565.2 852 L561.6 850.6 L557.9 849.2 L554 848 L550.2 846.9 L546.2 846 L542.1 845.3 L538 844.6 L533.8 844.1 L529.5 843.8 L525.1 843.6 L488.7 842.4 L452.3 841.3 L415.9 840.2 L379.5 839 L343.1 837.9Z" fill="#c6c6c6"/>
<path d="M343.1 837.3 L379.5 838.4 L415.9 839.6 L452.3 840.7 L488.7 841.8 L525.2 843 L529.5 843.2 L533.8 843.5 L538.1 844 L542.2 844.7 L546.3 845.4 L550.3 846.4 L554.2 847.4 L558 848.6 L561.8 850 L565.5 851.5 L569 853.1 L572.5 854.9 L576 856.9 L579.3 858.9 L582.5 861.2 L585.6 863.5 L588.7 866 L591.7 868.7 L594.5 871.5 L597.3 874.4 L600 877.5 L602.6 880.7 L605.1 884 L607.5 887.5 L609.8 891.1 L612.1 894.8 L614.2 898.7 L616.2 902.7 L618.2 906.8 L629.6 932.1 L641 957.3 L652.5 982.6 L663.9 1007.8 L675.3 1033.1 L673.1 1034.1 L661.7 1008.8 L650.3 983.6 L638.8 958.3 L627.4 933.1 L616 907.8 L614.1 903.8 L612.1 899.8 L610 896 L607.8 892.3 L605.5 888.8 L603.1 885.4 L600.7 882.1 L598.1 879 L595.5 876 L592.8 873.2 L590 870.5 L587.1 867.9 L584.2 865.4 L581.1 863.1 L577.9 861 L574.7 858.9 L571.4 857.1 L568 855.3 L564.5 853.7 L560.9 852.3 L557.3 850.9 L553.5 849.7 L549.7 848.7 L545.8 847.8 L541.8 847 L537.8 846.4 L533.6 845.9 L529.4 845.6 L525.1 845.4 L488.7 844.3 L452.3 843.1 L415.9 842 L379.5 840.8 L343.1 839.7Z" fill="#dadada"/>
<path d="M343.1 839.1 L379.5 840.2 L415.9 841.4 L452.3 842.5 L488.7 843.7 L525.1 844.8 L529.4 845 L533.7 845.3 L537.8 845.8 L541.9 846.5 L545.9 847.2 L549.9 848.1 L553.7 849.2 L557.5 850.4 L561.1 851.7 L564.7 853.2 L568.3 854.8 L571.7 856.5 L575 858.4 L578.3 860.5 L581.4 862.6 L584.5 865 L587.5 867.4 L590.4 870 L593.2 872.7 L596 875.6 L598.6 878.6 L601.2 881.8 L603.6 885.1 L606 888.5 L608.3 892 L610.5 895.7 L612.6 899.5 L614.6 903.5 L616.5 907.6 L628 932.8 L639.4 958.1 L650.8 983.3 L662.2 1008.6 L673.6 1033.8 L669.5 1035.7 L658.1 1010.4 L646.7 985.2 L635.3 959.9 L623.9 934.7 L612.4 909.5 L610.6 905.5 L608.6 901.7 L606.6 898 L604.5 894.4 L602.3 891 L600 887.7 L597.6 884.5 L595.2 881.5 L592.6 878.7 L590 875.9 L587.4 873.3 L584.6 870.8 L581.7 868.5 L578.8 866.3 L575.8 864.2 L572.7 862.3 L569.5 860.5 L566.3 858.8 L562.9 857.3 L559.5 855.9 L556 854.6 L552.4 853.5 L548.8 852.5 L545 851.6 L541.2 850.9 L537.2 850.3 L533.2 849.8 L529.1 849.5 L524.9 849.3 L488.5 848.2 L452.1 847 L415.7 845.9 L379.3 844.7 L342.9 843.6Z" fill="#666666"/>
<path d="M343 843 L379.4 844.1 L415.8 845.3 L452.2 846.4 L488.6 847.6 L525 848.7 L529.2 848.9 L533.3 849.2 L537.3 849.7 L541.3 850.3 L545.1 851 L548.9 851.9 L552.6 852.9 L556.2 854.1 L559.7 855.3 L563.2 856.7 L566.5 858.3 L569.8 860 L573 861.8 L576.1 863.7 L579.2 865.8 L582.1 868 L585 870.4 L587.8 872.9 L590.5 875.5 L593.1 878.2 L595.6 881.1 L598.1 884.2 L600.5 887.3 L602.7 890.6 L605 894.1 L607.1 897.7 L609.1 901.4 L611.1 905.2 L613 909.2 L624.4 934.5 L635.8 959.7 L647.2 984.9 L658.7 1010.2 L670.1 1035.4 L666 1037.3 L654.6 1012 L643.1 986.8 L631.7 961.5 L620.3 936.3 L608.9 911.1 L607.1 907.2 L605.2 903.5 L603.2 899.9 L601.1 896.5 L599 893.1 L596.8 890 L594.5 886.9 L592.2 884 L589.8 881.3 L587.3 878.7 L584.7 876.2 L582 873.8 L579.3 871.6 L576.5 869.5 L573.7 867.5 L570.7 865.6 L567.7 863.9 L564.6 862.3 L561.4 860.9 L558.1 859.5 L554.8 858.3 L551.3 857.2 L547.8 856.3 L544.2 855.4 L540.5 854.7 L536.7 854.2 L532.8 853.7 L528.9 853.4 L524.8 853.2 L488.4 852.1 L452 850.9 L415.6 849.8 L379.2 848.6 L342.8 847.5Z" fill="#f6f6f6"/>
<path d="M342.8 846.9 L379.2 848 L415.6 849.2 L452 850.3 L488.4 851.5 L524.8 852.6 L528.9 852.8 L532.9 853.1 L536.8 853.6 L540.6 854.1 L544.3 854.9 L548 855.7 L551.5 856.7 L555 857.8 L558.3 859 L561.6 860.3 L564.8 861.8 L568 863.4 L571 865.1 L574 867 L576.9 869 L579.7 871.1 L582.4 873.3 L585.1 875.7 L587.7 878.2 L590.2 880.9 L592.6 883.7 L595 886.6 L597.3 889.6 L599.5 892.8 L601.6 896.1 L603.7 899.6 L605.7 903.2 L607.6 906.9 L609.4 910.8 L620.9 936.1 L632.3 961.3 L643.7 986.5 L655.1 1011.8 L666.5 1037 L662.4 1038.9 L651 1013.6 L639.6 988.4 L628.2 963.2 L616.8 937.9 L605.3 912.7 L603.6 908.9 L601.7 905.3 L599.8 901.8 L597.8 898.5 L595.8 895.3 L593.6 892.3 L591.5 889.3 L589.2 886.6 L586.9 883.9 L584.5 881.4 L582 879 L579.5 876.8 L576.9 874.6 L574.3 872.6 L571.5 870.7 L568.7 869 L565.8 867.4 L562.9 865.8 L559.8 864.4 L556.7 863.2 L553.5 862 L550.2 861 L546.9 860.1 L543.4 859.3 L539.8 858.6 L536.2 858 L532.5 857.6 L528.6 857.3 L524.7 857.1 L488.3 856 L451.9 854.8 L415.5 853.7 L379.1 852.5 L342.7 851.4Z" fill="#727272"/>
<path d="M342.7 850.8 L379.1 851.9 L415.5 853.1 L451.9 854.2 L488.3 855.4 L524.7 856.5 L528.7 856.7 L532.5 857 L536.3 857.4 L539.9 858 L543.5 858.7 L547 859.5 L550.4 860.4 L553.7 861.4 L556.9 862.6 L560.1 863.9 L563.1 865.3 L566.1 866.8 L569 868.5 L571.9 870.2 L574.6 872.1 L577.3 874.2 L579.9 876.3 L582.4 878.6 L584.9 881 L587.3 883.5 L589.7 886.2 L591.9 889 L594.1 891.9 L596.3 895 L598.3 898.2 L600.3 901.5 L602.2 905 L604.1 908.7 L605.9 912.4 L617.3 937.7 L628.7 962.9 L640.1 988.1 L651.6 1013.4 L663 1038.6 L658.9 1040.5 L647.5 1015.2 L636 990 L624.6 964.8 L613.2 939.5 L601.8 914.3 L600.1 910.6 L598.3 907.1 L596.4 903.8 L594.5 900.6 L592.5 897.5 L590.5 894.5 L588.4 891.7 L586.2 889.1 L584 886.5 L581.7 884.1 L579.4 881.9 L577 879.7 L574.5 877.7 L572 875.8 L569.4 874 L566.7 872.3 L564 870.8 L561.2 869.4 L558.3 868 L555.3 866.8 L552.3 865.7 L549.1 864.7 L545.9 863.8 L542.6 863.1 L539.2 862.4 L535.7 861.9 L532.1 861.5 L528.4 861.2 L524.6 861 L488.2 859.9 L451.8 858.7 L415.4 857.6 L379 856.4 L342.6 855.3Z" fill="#b2b2b2"/>
<mask id="lm2" maskUnits="userSpaceOnUse" x="0" y="0" width="1500" height="1500"><linearGradient id="lg2" gradientUnits="userSpaceOnUse" x1="525" y1="847.7" x2="613.9" y2="908.8"><stop offset="0" stop-color="#000"/><stop offset="1" stop-color="#fff"/></linearGradient><rect x="0" y="0" width="1500" height="1500" fill="url(#lg2)"/></mask>
<g mask="url(#lm2)">
<path d="M343.4 828.7 L379.8 829.8 L416.2 831 L452.6 832.1 L489 833.3 L525.4 834.4 L530.1 834.6 L534.7 835 L539.2 835.5 L543.7 836.2 L548.1 837 L552.4 838 L556.6 839.2 L560.8 840.5 L564.9 842 L568.9 843.6 L572.8 845.4 L576.6 847.4 L580.3 849.5 L584 851.8 L587.5 854.2 L590.9 856.8 L594.3 859.5 L597.5 862.4 L600.6 865.4 L603.6 868.6 L606.6 871.9 L609.4 875.4 L612.1 879 L614.6 882.7 L617.1 886.6 L619.5 890.6 L621.8 894.7 L623.9 898.9 L626 903.3 L637.4 928.6 L648.9 953.8 L660.3 979 L671.7 1004.3 L683.1 1029.5 L680.7 1030.6 L669.3 1005.4 L657.8 980.1 L646.4 954.9 L635 929.7 L623.6 904.4 L621.5 900.1 L619.4 895.9 L617.2 891.9 L614.8 888 L612.4 884.2 L609.9 880.5 L607.2 877 L604.5 873.7 L601.7 870.4 L598.7 867.3 L595.7 864.4 L592.5 861.6 L589.3 858.9 L585.9 856.4 L582.5 854 L579 851.8 L575.3 849.7 L571.6 847.8 L567.8 846.1 L563.9 844.5 L559.9 843 L555.9 841.8 L551.7 840.6 L547.5 839.7 L543.2 838.8 L538.9 838.2 L534.4 837.7 L529.9 837.3 L525.3 837.1 L488.9 835.9 L452.5 834.8 L416.1 833.7 L379.7 832.5 L343.3 831.4Z" fill="#a2a2a2"/>
<path d="M343.4 830.8 L379.8 831.9 L416.2 833.1 L452.6 834.2 L489 835.3 L525.4 836.5 L529.9 836.7 L534.5 837.1 L538.9 837.6 L543.3 838.3 L547.6 839.1 L551.9 840.1 L556 841.2 L560.1 842.5 L564.1 843.9 L568.1 845.5 L571.9 847.3 L575.6 849.2 L579.3 851.3 L582.8 853.5 L586.3 855.9 L589.7 858.4 L592.9 861.1 L596.1 863.9 L599.2 866.9 L602.1 870 L605 873.3 L607.7 876.7 L610.4 880.2 L612.9 883.9 L615.4 887.7 L617.7 891.6 L619.9 895.6 L622.1 899.8 L624.1 904.2 L635.5 929.4 L647 954.7 L658.4 979.9 L669.8 1005.1 L681.2 1030.4 L669.5 1035.7 L658.1 1010.4 L646.7 985.2 L635.3 959.9 L623.9 934.7 L612.4 909.5 L610.6 905.5 L608.6 901.7 L606.6 898 L604.5 894.4 L602.3 891 L600 887.7 L597.6 884.5 L595.2 881.5 L592.6 878.7 L590 875.9 L587.4 873.3 L584.6 870.8 L581.7 868.5 L578.8 866.3 L575.8 864.2 L572.7 862.3 L569.5 860.5 L566.3 858.8 L562.9 857.3 L559.5 855.9 L556 854.6 L552.4 853.5 L548.8 852.5 L545 851.6 L541.2 850.9 L537.2 850.3 L533.2 849.8 L529.1 849.5 L524.9 849.3 L488.5 848.2 L452.1 847 L415.7 845.9 L379.3 844.7 L342.9 843.6Z" fill="#c9c9c9"/>
<path d="M343 843 L379.4 844.1 L415.8 845.3 L452.2 846.4 L488.6 847.6 L525 848.7 L529.2 848.9 L533.3 849.2 L537.3 849.7 L541.3 850.3 L545.1 851 L548.9 851.9 L552.6 852.9 L556.2 854.1 L559.7 855.3 L563.2 856.7 L566.5 858.3 L569.8 860 L573 861.8 L576.1 863.7 L579.2 865.8 L582.1 868 L585 870.4 L587.8 872.9 L590.5 875.5 L593.1 878.2 L595.6 881.1 L598.1 884.2 L600.5 887.3 L602.7 890.6 L605 894.1 L607.1 897.7 L609.1 901.4 L611.1 905.2 L613 909.2 L624.4 934.5 L635.8 959.7 L647.2 984.9 L658.7 1010.2 L670.1 1035.4 L666 1037.3 L654.6 1012 L643.1 986.8 L631.7 961.5 L620.3 936.3 L608.9 911.1 L607.1 907.2 L605.2 903.5 L603.2 899.9 L601.1 896.5 L599 893.1 L596.8 890 L594.5 886.9 L592.2 884 L589.8 881.3 L587.3 878.7 L584.7 876.2 L582 873.8 L579.3 871.6 L576.5 869.5 L573.7 867.5 L570.7 865.6 L567.7 863.9 L564.6 862.3 L561.4 860.9 L558.1 859.5 L554.8 858.3 L551.3 857.2 L547.8 856.3 L544.2 855.4 L540.5 854.7 L536.7 854.2 L532.8 853.7 L528.9 853.4 L524.8 853.2 L488.4 852.1 L452 850.9 L415.6 849.8 L379.2 848.6 L342.8 847.5Z" fill="#d6d6d6"/>
<path d="M342.8 846.9 L379.2 848 L415.6 849.2 L452 850.3 L488.4 851.5 L524.8 852.6 L528.9 852.8 L532.9 853.1 L536.8 853.6 L540.6 854.1 L544.3 854.9 L548 855.7 L551.5 856.7 L555 857.8 L558.3 859 L561.6 860.3 L564.8 861.8 L568 863.4 L571 865.1 L574 867 L576.9 869 L579.7 871.1 L582.4 873.3 L585.1 875.7 L587.7 878.2 L590.2 880.9 L592.6 883.7 L595 886.6 L597.3 889.6 L599.5 892.8 L601.6 896.1 L603.7 899.6 L605.7 903.2 L607.6 906.9 L609.4 910.8 L620.9 936.1 L632.3 961.3 L643.7 986.5 L655.1 1011.8 L666.5 1037 L663.6 1038.3 L652.2 1013.1 L640.8 987.9 L629.4 962.6 L617.9 937.4 L606.5 912.2 L604.7 908.4 L602.9 904.7 L600.9 901.2 L598.9 897.8 L596.8 894.6 L594.7 891.5 L592.5 888.5 L590.2 885.7 L587.8 883 L585.4 880.5 L582.9 878.1 L580.4 875.8 L577.7 873.6 L575 871.6 L572.2 869.7 L569.4 867.9 L566.5 866.2 L563.4 864.7 L560.4 863.3 L557.2 862 L553.9 860.8 L550.6 859.7 L547.2 858.8 L543.7 858 L540.1 857.3 L536.4 856.7 L532.6 856.3 L528.7 856 L524.7 855.8 L488.3 854.7 L451.9 853.5 L415.5 852.4 L379.1 851.2 L342.7 850.1Z" fill="#f2f2f2"/>
<path d="M342.8 849.5 L379.2 850.6 L415.6 851.8 L452 852.9 L488.4 854.1 L524.8 855.2 L528.8 855.4 L532.7 855.7 L536.5 856.1 L540.2 856.7 L543.8 857.4 L547.3 858.2 L550.8 859.2 L554.1 860.2 L557.4 861.4 L560.6 862.7 L563.7 864.1 L566.7 865.7 L569.7 867.4 L572.6 869.2 L575.4 871.1 L578.1 873.1 L580.7 875.3 L583.3 877.6 L585.8 880.1 L588.3 882.6 L590.7 885.3 L593 888.2 L595.2 891.1 L597.3 894.3 L599.4 897.5 L601.5 900.9 L603.4 904.4 L605.3 908.1 L607.1 911.9 L618.5 937.1 L629.9 962.4 L641.3 987.6 L652.7 1012.9 L664.2 1038.1 L661.3 1039.4 L649.8 1014.2 L638.4 988.9 L627 963.7 L615.6 938.5 L604.2 913.2 L602.4 909.5 L600.6 905.9 L598.7 902.5 L596.7 899.2 L594.7 896 L592.6 893 L590.4 890.1 L588.2 887.4 L585.9 884.8 L583.6 882.3 L581.1 880 L578.7 877.7 L576.1 875.7 L573.5 873.7 L570.8 871.8 L568.1 870.1 L565.2 868.5 L562.3 867 L559.3 865.6 L556.3 864.4 L553.1 863.2 L549.9 862.2 L546.5 861.3 L543.1 860.5 L539.6 859.9 L536 859.3 L532.3 858.9 L528.6 858.6 L524.6 858.4 L488.3 857.3 L451.9 856.1 L415.5 855 L379.1 853.8 L342.7 852.7Z" fill="#b8b8b8"/>
<path d="M342.7 852.1 L379.1 853.2 L415.5 854.4 L451.9 855.5 L488.3 856.7 L524.7 857.8 L528.6 858 L532.4 858.3 L536.1 858.7 L539.7 859.3 L543.3 859.9 L546.7 860.7 L550 861.6 L553.3 862.7 L556.5 863.8 L559.6 865.1 L562.6 866.5 L565.5 868 L568.4 869.6 L571.1 871.3 L573.8 873.2 L576.5 875.2 L579.1 877.3 L581.6 879.5 L584 881.9 L586.4 884.4 L588.7 887 L590.9 889.8 L593.1 892.7 L595.2 895.7 L597.2 898.9 L599.2 902.2 L601.1 905.6 L602.9 909.2 L604.7 913 L616.1 938.2 L627.5 963.4 L639 988.7 L650.4 1013.9 L661.8 1039.2 L658.9 1040.5 L647.5 1015.2 L636 990 L624.6 964.8 L613.2 939.5 L601.8 914.3 L600.1 910.6 L598.3 907.1 L596.4 903.8 L594.5 900.6 L592.5 897.5 L590.5 894.5 L588.4 891.7 L586.2 889.1 L584 886.5 L581.7 884.1 L579.4 881.9 L577 879.7 L574.5 877.7 L572 875.8 L569.4 874 L566.7 872.3 L564 870.8 L561.2 869.4 L558.3 868 L555.3 866.8 L552.3 865.7 L549.1 864.7 L545.9 863.8 L542.6 863.1 L539.2 862.4 L535.7 861.9 L532.1 861.5 L528.4 861.2 L524.6 861 L488.2 859.9 L451.8 858.7 L415.4 857.6 L379 856.4 L342.6 855.3Z" fill="#8c8c8c"/>
</g>
<g transform="translate(671.4 1035.9) rotate(-24.3)"><path d="M-13 0 A13 5 0 0 0 13 0 Z" fill="#1c1c1c"/></g>
<path d="M341.2 876.7 L371 877.1 L400.8 877.5 L430.6 877.9 L460.4 878.3 L490.2 878.7 L494.5 878.8 L498.8 879.1 L503 879.5 L507.1 880.1 L511.2 880.8 L515.1 881.6 L519.1 882.6 L522.9 883.7 L526.7 885 L530.4 886.4 L534 888 L537.5 889.7 L541 891.5 L544.3 893.5 L547.6 895.7 L550.8 897.9 L553.9 900.3 L556.8 902.9 L559.7 905.6 L562.5 908.4 L565.2 911.3 L567.7 914.4 L570.2 917.6 L572.6 920.9 L574.8 924.4 L577 927.9 L579.1 931.6 L581 935.4 L582.9 939.2 L591 957.1 L599.2 975 L607.3 992.8 L615.5 1010.6 L623.6 1028.5 L620.7 1029.8 L612.5 1012 L604.4 994.1 L596.3 976.3 L588.1 958.4 L580 940.6 L578.2 936.8 L576.2 933.1 L574.2 929.5 L572.1 926.1 L569.9 922.7 L567.6 919.5 L565.2 916.4 L562.8 913.4 L560.2 910.6 L557.5 907.9 L554.7 905.3 L551.8 902.8 L548.9 900.5 L545.8 898.3 L542.6 896.2 L539.4 894.3 L536.1 892.5 L532.7 890.9 L529.2 889.4 L525.6 888 L521.9 886.8 L518.2 885.7 L514.4 884.7 L510.6 883.9 L506.6 883.3 L502.6 882.7 L498.5 882.3 L494.4 882 L490.2 881.9 L460.3 881.5 L430.5 881.1 L400.7 880.7 L370.9 880.3 L341.1 879.9Z" fill="#a9a9a9"/>
<path d="M341.1 879.3 L370.9 879.7 L400.7 880.1 L430.5 880.5 L460.3 880.9 L490.2 881.3 L494.4 881.4 L498.6 881.7 L502.7 882.1 L506.7 882.7 L510.7 883.3 L514.6 884.2 L518.4 885.1 L522.1 886.2 L525.8 887.4 L529.4 888.8 L532.9 890.3 L536.3 892 L539.7 893.8 L543 895.7 L546.1 897.8 L549.2 900 L552.2 902.4 L555.1 904.8 L557.9 907.4 L560.6 910.2 L563.2 913.1 L565.7 916 L568.1 919.2 L570.4 922.4 L572.6 925.8 L574.8 929.2 L576.8 932.8 L578.7 936.5 L580.5 940.3 L588.7 958.2 L596.8 976 L605 993.9 L613.1 1011.7 L621.2 1029.6 L615.2 1032.3 L607.1 1014.4 L599 996.6 L590.8 978.8 L582.7 960.9 L574.5 943.1 L572.8 939.5 L571 935.9 L569.1 932.5 L567.1 929.3 L565 926.1 L562.8 923.1 L560.6 920.2 L558.2 917.4 L555.8 914.7 L553.3 912.2 L550.7 909.7 L548 907.4 L545.3 905.3 L542.4 903.2 L539.5 901.3 L536.5 899.5 L533.4 897.9 L530.2 896.3 L526.9 894.9 L523.6 893.6 L520.2 892.5 L516.7 891.5 L513.1 890.6 L509.4 889.8 L505.7 889.2 L501.9 888.7 L498 888.3 L494.1 888 L490.1 887.9 L460.3 887.5 L430.5 887.1 L400.7 886.7 L370.9 886.3 L341.1 885.9Z" fill="#c6c6c6"/>
<path d="M341.1 885.3 L370.9 885.7 L400.7 886.1 L430.5 886.5 L460.3 886.9 L490.1 887.3 L494.1 887.4 L498.1 887.7 L502 888.1 L505.8 888.6 L509.6 889.2 L513.2 890 L516.8 890.9 L520.3 891.9 L523.8 893.1 L527.1 894.4 L530.4 895.8 L533.6 897.3 L536.8 899 L539.8 900.8 L542.8 902.7 L545.6 904.8 L548.4 907 L551.1 909.3 L553.7 911.7 L556.3 914.3 L558.7 917 L561.1 919.8 L563.3 922.7 L565.5 925.8 L567.6 929 L569.6 932.2 L571.5 935.7 L573.3 939.2 L575.1 942.8 L583.2 960.7 L591.4 978.5 L599.5 996.4 L607.7 1014.2 L615.8 1032 L613.6 1033 L605.5 1015.2 L597.3 997.4 L589.2 979.5 L581 961.7 L572.9 943.8 L571.2 940.3 L569.4 936.8 L567.5 933.5 L565.5 930.2 L563.5 927.1 L561.4 924.2 L559.2 921.3 L556.9 918.6 L554.5 916 L552 913.5 L549.5 911.1 L546.9 908.9 L544.2 906.7 L541.4 904.7 L538.5 902.9 L535.6 901.1 L532.5 899.5 L529.4 898 L526.2 896.6 L523 895.3 L519.6 894.2 L516.2 893.2 L512.7 892.3 L509.1 891.6 L505.4 891 L501.7 890.5 L497.9 890.1 L494 889.8 L490 889.7 L460.2 889.3 L430.4 888.9 L400.6 888.5 L370.8 888.1 L341 887.7Z" fill="#dadada"/>
<path d="M341 887.1 L370.8 887.5 L400.6 887.9 L430.4 888.3 L460.2 888.7 L490 889.1 L494 889.2 L497.9 889.5 L501.8 889.9 L505.5 890.4 L509.2 891 L512.8 891.8 L516.3 892.6 L519.8 893.7 L523.2 894.8 L526.5 896 L529.7 897.4 L532.8 898.9 L535.9 900.6 L538.8 902.3 L541.7 904.2 L544.5 906.2 L547.3 908.4 L549.9 910.7 L552.5 913 L554.9 915.5 L557.3 918.2 L559.6 920.9 L561.9 923.8 L564 926.8 L566.1 929.9 L568 933.2 L569.9 936.5 L571.7 940 L573.4 943.6 L581.6 961.4 L589.7 979.3 L597.9 997.1 L606 1015 L614.1 1032.8 L610 1034.7 L601.9 1016.8 L593.8 999 L585.6 981.1 L577.5 963.3 L569.3 945.5 L567.7 942 L566 938.7 L564.1 935.4 L562.3 932.3 L560.3 929.4 L558.2 926.5 L556.1 923.8 L553.9 921.1 L551.7 918.6 L549.3 916.3 L546.9 914 L544.4 911.9 L541.8 909.8 L539.2 907.9 L536.5 906.2 L533.6 904.5 L530.8 903 L527.8 901.5 L524.8 900.2 L521.6 899 L518.4 897.9 L515.2 897 L511.8 896.1 L508.4 895.4 L504.9 894.8 L501.3 894.3 L497.6 894 L493.8 893.7 L490 893.6 L460.2 893.2 L430.4 892.8 L400.6 892.4 L370.8 892 L341 891.6Z" fill="#666666"/>
<path d="M341 891 L370.8 891.4 L400.6 891.8 L430.4 892.2 L460.2 892.6 L490 893 L493.8 893.1 L497.6 893.4 L501.3 893.7 L504.9 894.2 L508.5 894.8 L511.9 895.6 L515.3 896.4 L518.6 897.4 L521.8 898.5 L525 899.7 L528 901 L531 902.4 L533.9 904 L536.8 905.7 L539.5 907.5 L542.2 909.4 L544.8 911.4 L547.3 913.6 L549.7 915.8 L552.1 918.2 L554.4 920.7 L556.6 923.4 L558.7 926.1 L560.8 929 L562.8 932 L564.7 935.1 L566.5 938.4 L568.2 941.7 L569.9 945.2 L578 963.1 L586.2 980.9 L594.3 998.7 L602.5 1016.6 L610.6 1034.4 L606.5 1036.3 L598.4 1018.4 L590.2 1000.6 L582.1 982.8 L573.9 964.9 L565.8 947.1 L564.2 943.7 L562.5 940.5 L560.8 937.4 L559 934.4 L557.1 931.6 L555.1 928.8 L553.1 926.2 L551 923.7 L548.8 921.3 L546.6 919.1 L544.3 916.9 L541.9 914.9 L539.5 913 L537 911.2 L534.4 909.5 L531.7 907.9 L529 906.4 L526.2 905.1 L523.3 903.8 L520.3 902.7 L517.3 901.7 L514.1 900.8 L510.9 899.9 L507.6 899.3 L504.3 898.7 L500.8 898.2 L497.3 897.9 L493.6 897.6 L489.9 897.5 L460.1 897.1 L430.3 896.7 L400.5 896.3 L370.7 895.9 L340.9 895.5Z" fill="#f6f6f6"/>
<path d="M340.9 894.9 L370.7 895.3 L400.5 895.7 L430.3 896.1 L460.1 896.5 L489.9 896.9 L493.7 897 L497.3 897.3 L500.9 897.6 L504.4 898.1 L507.8 898.7 L511.1 899.4 L514.3 900.2 L517.5 901.1 L520.5 902.1 L523.5 903.3 L526.4 904.5 L529.3 905.9 L532 907.4 L534.7 909 L537.3 910.7 L539.8 912.5 L542.3 914.4 L544.7 916.5 L547 918.6 L549.3 920.9 L551.4 923.3 L553.6 925.8 L555.6 928.5 L557.6 931.2 L559.5 934.1 L561.3 937.1 L563 940.2 L564.7 943.5 L566.3 946.8 L574.5 964.7 L582.6 982.5 L590.8 1000.4 L598.9 1018.2 L607 1036 L602.9 1037.9 L594.8 1020.1 L586.7 1002.2 L578.5 984.4 L570.4 966.5 L562.3 948.7 L560.7 945.5 L559.1 942.4 L557.4 939.4 L555.7 936.5 L553.9 933.8 L552 931.1 L550.1 928.6 L548.1 926.3 L546 924 L543.9 921.9 L541.7 919.8 L539.5 917.9 L537.1 916.1 L534.8 914.4 L532.3 912.8 L529.8 911.3 L527.2 909.9 L524.6 908.6 L521.8 907.4 L519 906.4 L516.1 905.4 L513.1 904.5 L510.1 903.7 L506.9 903.1 L503.7 902.5 L500.3 902.1 L496.9 901.7 L493.4 901.5 L489.9 901.4 L460.1 901 L430.3 900.6 L400.5 900.2 L370.7 899.8 L340.9 899.4Z" fill="#727272"/>
<path d="M340.9 898.8 L370.7 899.2 L400.5 899.6 L430.3 900 L460.1 900.4 L489.9 900.8 L493.5 900.9 L497 901.1 L500.4 901.5 L503.8 901.9 L507 902.5 L510.2 903.2 L513.3 903.9 L516.3 904.8 L519.2 905.8 L522 906.9 L524.8 908.1 L527.5 909.4 L530.1 910.8 L532.6 912.3 L535.1 913.9 L537.5 915.6 L539.8 917.4 L542.1 919.4 L544.3 921.4 L546.4 923.6 L548.5 925.9 L550.5 928.3 L552.5 930.8 L554.3 933.4 L556.2 936.2 L557.9 939.1 L559.6 942.1 L561.2 945.2 L562.8 948.5 L570.9 966.3 L579.1 984.1 L587.2 1002 L595.4 1019.8 L603.5 1037.7 L599.4 1039.5 L591.3 1021.7 L583.1 1003.8 L575 986 L566.8 968.2 L558.7 950.4 L557.2 947.2 L555.7 944.2 L554 941.3 L552.4 938.6 L550.6 936 L548.9 933.5 L547 931.1 L545.1 928.8 L543.2 926.7 L541.2 924.7 L539.1 922.7 L537 920.9 L534.8 919.2 L532.6 917.6 L530.3 916.1 L527.9 914.7 L525.5 913.4 L522.9 912.2 L520.4 911.1 L517.7 910 L514.9 909.1 L512.1 908.3 L509.2 907.6 L506.2 906.9 L503.1 906.4 L499.9 906 L496.6 905.6 L493.2 905.4 L489.8 905.3 L460 904.9 L430.2 904.5 L400.4 904.1 L370.6 903.7 L340.8 903.3Z" fill="#b2b2b2"/>
<mask id="lm3" maskUnits="userSpaceOnUse" x="0" y="0" width="1500" height="1500"><linearGradient id="lg3" gradientUnits="userSpaceOnUse" x1="490" y1="892" x2="570.8" y2="944.8"><stop offset="0" stop-color="#000"/><stop offset="1" stop-color="#fff"/></linearGradient><rect x="0" y="0" width="1500" height="1500" fill="url(#lg3)"/></mask>
<g mask="url(#lm3)">
<path d="M341.2 876.7 L371 877.1 L400.8 877.5 L430.6 877.9 L460.4 878.3 L490.2 878.7 L494.5 878.8 L498.8 879.1 L503 879.5 L507.1 880.1 L511.2 880.8 L515.1 881.6 L519.1 882.6 L522.9 883.7 L526.7 885 L530.4 886.4 L534 888 L537.5 889.7 L541 891.5 L544.3 893.5 L547.6 895.7 L550.8 897.9 L553.9 900.3 L556.8 902.9 L559.7 905.6 L562.5 908.4 L565.2 911.3 L567.7 914.4 L570.2 917.6 L572.6 920.9 L574.8 924.4 L577 927.9 L579.1 931.6 L581 935.4 L582.9 939.2 L591 957.1 L599.2 975 L607.3 992.8 L615.5 1010.6 L623.6 1028.5 L621.2 1029.6 L613 1011.8 L604.9 993.9 L596.7 976.1 L588.6 958.2 L580.4 940.4 L578.6 936.6 L576.7 932.8 L574.7 929.3 L572.6 925.8 L570.4 922.4 L568.1 919.2 L565.7 916.1 L563.1 913.1 L560.5 910.2 L557.8 907.5 L555 904.9 L552.2 902.4 L549.2 900.1 L546.1 897.9 L542.9 895.8 L539.7 893.9 L536.3 892.1 L532.9 890.4 L529.4 888.9 L525.8 887.5 L522.1 886.3 L518.4 885.2 L514.5 884.2 L510.7 883.4 L506.7 882.7 L502.7 882.2 L498.6 881.8 L494.4 881.5 L490.2 881.4 L460.3 881 L430.5 880.6 L400.7 880.2 L370.9 879.8 L341.1 879.4Z" fill="#a2a2a2"/>
<path d="M341.2 878.8 L371 879.2 L400.8 879.6 L430.6 880 L460.4 880.4 L490.2 880.8 L494.4 880.9 L498.6 881.2 L502.7 881.6 L506.8 882.2 L510.8 882.8 L514.7 883.7 L518.5 884.6 L522.3 885.7 L526 887 L529.6 888.3 L533.1 889.9 L536.6 891.5 L539.9 893.3 L543.2 895.3 L546.4 897.4 L549.5 899.6 L552.5 902 L555.4 904.4 L558.3 907.1 L561 909.8 L563.6 912.7 L566.1 915.7 L568.5 918.8 L570.9 922.1 L573.1 925.5 L575.2 929 L577.2 932.6 L579.2 936.3 L581 940.1 L589.1 958 L597.3 975.8 L605.4 993.7 L613.6 1011.5 L621.7 1029.3 L610 1034.7 L601.9 1016.8 L593.8 999 L585.6 981.1 L577.5 963.3 L569.3 945.5 L567.7 942 L566 938.7 L564.1 935.4 L562.3 932.3 L560.3 929.4 L558.2 926.5 L556.1 923.8 L553.9 921.1 L551.7 918.6 L549.3 916.3 L546.9 914 L544.4 911.9 L541.8 909.8 L539.2 907.9 L536.5 906.2 L533.6 904.5 L530.8 903 L527.8 901.5 L524.8 900.2 L521.6 899 L518.4 897.9 L515.2 897 L511.8 896.1 L508.4 895.4 L504.9 894.8 L501.3 894.3 L497.6 894 L493.8 893.7 L490 893.6 L460.2 893.2 L430.4 892.8 L400.6 892.4 L370.8 892 L341 891.6Z" fill="#c9c9c9"/>
<path d="M341 891 L370.8 891.4 L400.6 891.8 L430.4 892.2 L460.2 892.6 L490 893 L493.8 893.1 L497.6 893.4 L501.3 893.7 L504.9 894.2 L508.5 894.8 L511.9 895.6 L515.3 896.4 L518.6 897.4 L521.8 898.5 L525 899.7 L528 901 L531 902.4 L533.9 904 L536.8 905.7 L539.5 907.5 L542.2 909.4 L544.8 911.4 L547.3 913.6 L549.7 915.8 L552.1 918.2 L554.4 920.7 L556.6 923.4 L558.7 926.1 L560.8 929 L562.8 932 L564.7 935.1 L566.5 938.4 L568.2 941.7 L569.9 945.2 L578 963.1 L586.2 980.9 L594.3 998.7 L602.5 1016.6 L610.6 1034.4 L606.5 1036.3 L598.4 1018.4 L590.2 1000.6 L582.1 982.8 L573.9 964.9 L565.8 947.1 L564.2 943.7 L562.5 940.5 L560.8 937.4 L559 934.4 L557.1 931.6 L555.1 928.8 L553.1 926.2 L551 923.7 L548.8 921.3 L546.6 919.1 L544.3 916.9 L541.9 914.9 L539.5 913 L537 911.2 L534.4 909.5 L531.7 907.9 L529 906.4 L526.2 905.1 L523.3 903.8 L520.3 902.7 L517.3 901.7 L514.1 900.8 L510.9 899.9 L507.6 899.3 L504.3 898.7 L500.8 898.2 L497.3 897.9 L493.6 897.6 L489.9 897.5 L460.1 897.1 L430.3 896.7 L400.5 896.3 L370.7 895.9 L340.9 895.5Z" fill="#d6d6d6"/>
<path d="M340.9 894.9 L370.7 895.3 L400.5 895.7 L430.3 896.1 L460.1 896.5 L489.9 896.9 L493.7 897 L497.3 897.3 L500.9 897.6 L504.4 898.1 L507.8 898.7 L511.1 899.4 L514.3 900.2 L517.5 901.1 L520.5 902.1 L523.5 903.3 L526.4 904.5 L529.3 905.9 L532 907.4 L534.7 909 L537.3 910.7 L539.8 912.5 L542.3 914.4 L544.7 916.5 L547 918.6 L549.3 920.9 L551.4 923.3 L553.6 925.8 L555.6 928.5 L557.6 931.2 L559.5 934.1 L561.3 937.1 L563 940.2 L564.7 943.5 L566.3 946.8 L574.5 964.7 L582.6 982.5 L590.8 1000.4 L598.9 1018.2 L607 1036 L604.1 1037.4 L596 1019.5 L587.9 1001.7 L579.7 983.8 L571.6 966 L563.4 948.2 L561.9 944.9 L560.2 941.7 L558.5 938.7 L556.8 935.8 L554.9 933 L553 930.4 L551.1 927.8 L549 925.4 L546.9 923.1 L544.8 920.9 L542.6 918.9 L540.3 916.9 L537.9 915 L535.5 913.3 L533 911.7 L530.5 910.2 L527.8 908.7 L525.1 907.4 L522.3 906.2 L519.4 905.1 L516.5 904.1 L513.5 903.3 L510.4 902.5 L507.2 901.8 L503.9 901.2 L500.5 900.8 L497 900.5 L493.5 900.2 L489.9 900.1 L460.1 899.7 L430.3 899.3 L400.5 898.9 L370.7 898.5 L340.9 898.1Z" fill="#f2f2f2"/>
<path d="M340.9 897.5 L370.7 897.9 L400.5 898.3 L430.3 898.7 L460.1 899.1 L489.9 899.5 L493.5 899.6 L497.1 899.9 L500.6 900.2 L504 900.7 L507.3 901.2 L510.5 901.9 L513.6 902.7 L516.7 903.6 L519.6 904.6 L522.5 905.7 L525.4 906.9 L528.1 908.2 L530.7 909.6 L533.3 911.2 L535.8 912.8 L538.3 914.6 L540.7 916.4 L543 918.4 L545.2 920.5 L547.4 922.7 L549.5 925 L551.5 927.5 L553.5 930 L555.4 932.7 L557.3 935.5 L559 938.4 L560.8 941.5 L562.4 944.6 L564 947.9 L572.1 965.8 L580.3 983.6 L588.4 1001.4 L596.5 1019.3 L604.7 1037.1 L601.8 1038.4 L593.6 1020.6 L585.5 1002.8 L577.3 984.9 L569.2 967.1 L561.1 949.3 L559.5 946.1 L557.9 943 L556.3 940 L554.6 937.2 L552.8 934.5 L550.9 931.9 L549 929.5 L547.1 927.1 L545.1 924.9 L543 922.8 L540.8 920.8 L538.6 918.9 L536.4 917.1 L534 915.5 L531.6 913.9 L529.2 912.4 L526.6 911.1 L524 909.8 L521.3 908.6 L518.6 907.6 L515.7 906.6 L512.8 905.8 L509.8 905 L506.7 904.4 L503.5 903.8 L500.2 903.4 L496.8 903 L493.4 902.8 L489.8 902.7 L460.1 902.3 L430.3 901.9 L400.5 901.5 L370.7 901.1 L340.9 900.7Z" fill="#b8b8b8"/>
<path d="M340.9 900.1 L370.7 900.5 L400.5 900.9 L430.3 901.3 L460.1 901.7 L489.8 902.1 L493.4 902.2 L496.9 902.4 L500.3 902.8 L503.6 903.2 L506.8 903.8 L509.9 904.4 L512.9 905.2 L515.9 906.1 L518.8 907 L521.6 908.1 L524.3 909.3 L526.9 910.5 L529.5 911.9 L532 913.4 L534.4 915 L536.7 916.6 L539 918.4 L541.2 920.3 L543.4 922.4 L545.5 924.5 L547.5 926.7 L549.5 929.1 L551.4 931.6 L553.3 934.2 L555.1 936.9 L556.8 939.7 L558.5 942.7 L560.1 945.8 L561.6 949 L569.8 966.8 L577.9 984.7 L586 1002.5 L594.2 1020.4 L602.3 1038.2 L599.4 1039.5 L591.3 1021.7 L583.1 1003.8 L575 986 L566.8 968.2 L558.7 950.4 L557.2 947.2 L555.7 944.2 L554 941.3 L552.4 938.6 L550.6 936 L548.9 933.5 L547 931.1 L545.1 928.8 L543.2 926.7 L541.2 924.7 L539.1 922.7 L537 920.9 L534.8 919.2 L532.6 917.6 L530.3 916.1 L527.9 914.7 L525.5 913.4 L522.9 912.2 L520.4 911.1 L517.7 910 L514.9 909.1 L512.1 908.3 L509.2 907.6 L506.2 906.9 L503.1 906.4 L499.9 906 L496.6 905.6 L493.2 905.4 L489.8 905.3 L460 904.9 L430.2 904.5 L400.4 904.1 L370.6 903.7 L340.8 903.3Z" fill="#8c8c8c"/>
</g>
<g transform="translate(611.9 1034.9) rotate(-24.5)"><path d="M-13 0 A13 5 0 0 0 13 0 Z" fill="#1c1c1c"/></g>
<rect x="272" y="752" width="46" height="14" rx="2" fill="url(#capg)"/>
<rect x="272" y="752" width="46" height="2" rx="1" fill="#d6d4d0"/>
<rect x="270" y="764" width="50" height="2" fill="#3a3a3a"/>
<rect x="268" y="911" width="48" height="6" rx="2" fill="#c8c8c8"/>
<ellipse cx="292" cy="921" rx="11" ry="6" fill="#cdcdcd" stroke="#999" stroke-width="0.8"/>
<rect x="257" y="766" width="12" height="48" rx="2" fill="url(#plate)" stroke="#8a8a8a" stroke-width="0.6"/>
<rect x="269" y="766" width="50" height="48" fill="url(#hubblock)"/>
<ellipse cx="333" cy="773" rx="7" ry="3" fill="#dedede" stroke="#7a7a7a" stroke-width="0.8"/>
<ellipse cx="333" cy="813" rx="7" ry="3" fill="#dedede" stroke="#7a7a7a" stroke-width="0.8"/>
<path d="M296.7 779.7 L320 767.7 L326 773.5 L340 774.5 Q346 776 346 782 L346 804 Q346 810 340 810 L316.7 811.7 L296.7 798.3 Z" fill="url(#socket)" stroke="#8a8a8a" stroke-width="0.6"/>
<path d="M296.7 779.7 L320 767.7 L322 770 L299 782 Z" fill="#d6d6d6"/>
<rect x="343" y="778" width="3" height="30" fill="#555"/>
<rect x="311" y="790" width="30" height="2.2" fill="#1a1a1a"/>
<rect x="268" y="813" width="52" height="1.6" fill="#3a3a3a"/>
<rect x="257" y="815" width="12" height="48" rx="2" fill="url(#plate)" stroke="#8a8a8a" stroke-width="0.6"/>
<rect x="269" y="815" width="50" height="48" fill="url(#hubblock)"/>
<ellipse cx="333" cy="822" rx="7" ry="3" fill="#dedede" stroke="#7a7a7a" stroke-width="0.8"/>
<ellipse cx="333" cy="862" rx="7" ry="3" fill="#dedede" stroke="#7a7a7a" stroke-width="0.8"/>
<path d="M296.7 828.7 L320 816.7 L326 822.5 L340 823.5 Q346 825 346 831 L346 853 Q346 859 340 859 L316.7 860.7 L296.7 847.3 Z" fill="url(#socket)" stroke="#8a8a8a" stroke-width="0.6"/>
<path d="M296.7 828.7 L320 816.7 L322 819 L299 831 Z" fill="#d6d6d6"/>
<rect x="343" y="827" width="3" height="30" fill="#555"/>
<rect x="311" y="839" width="30" height="2.2" fill="#1a1a1a"/>
<rect x="268" y="862" width="52" height="1.6" fill="#3a3a3a"/>
<rect x="257" y="865" width="12" height="46" rx="2" fill="url(#plate)" stroke="#8a8a8a" stroke-width="0.6"/>
<rect x="269" y="865" width="50" height="46" fill="url(#hubblock)"/>
<ellipse cx="333" cy="872" rx="7" ry="3" fill="#dedede" stroke="#7a7a7a" stroke-width="0.8"/>
<ellipse cx="333" cy="910" rx="7" ry="3" fill="#dedede" stroke="#7a7a7a" stroke-width="0.8"/>
<path d="M296.7 878.7 L320 866.7 L326 872.5 L340 873.5 Q346 875 346 881 L346 903 Q346 909 340 909 L316.7 910.7 L296.7 897.3 Z" fill="url(#socket)" stroke="#8a8a8a" stroke-width="0.6"/>
<path d="M296.7 878.7 L320 866.7 L322 869 L299 881 Z" fill="#d6d6d6"/>
<rect x="343" y="877" width="3" height="30" fill="#555"/>
<rect x="311" y="889" width="30" height="2.2" fill="#1a1a1a"/>
<rect x="268" y="910" width="52" height="1.6" fill="#3a3a3a"/>
<path d="M236.6 753.2 Q228 753.5 224 762 Q216 781 224 800 Q228 809.5 236.6 809.6 Z" fill="url(#wingk)" stroke="#8a8a8a" stroke-width="0.7"/>
<path d="M236.2 770.4 L226 770.4 Q217.4 771 217.4 780.8 Q217.4 790.6 226 791.2 L236.2 791.2 Z" fill="url(#hubk)" stroke="#9a9a9a" stroke-width="0.6"/>
<rect x="236.2" y="773.6" width="8.4" height="14.4" rx="1.5" fill="url(#hubk)" stroke="#a0a0a0" stroke-width="0.5"/>
<rect x="244.6" y="778.4" width="7.6" height="6" fill="#c8c8c8" stroke="#888" stroke-width="0.5"/>
<rect x="252.2" y="772" width="5" height="18.4" rx="2.4" fill="#dcdcdc" stroke="#9a9a9a" stroke-width="0.5"/>
</g>
<line x1="524" y1="718" x2="524" y2="800" stroke="#333" stroke-width="2.6"/>
<circle cx="524" cy="718" r="4.2" fill="#333"/>
<path d="M811 936 L828 936 L832 944 L832 973 L829 982 L814 982 L806 972 Q800.5 958 806 947 Z" fill="#d0d0d0" stroke="#a0a0a0" stroke-width="0.6"/>
<path d="M806 950 Q803 958 806 966 L830 966 L830 950 Z" fill="#e8e8e8"/>
<rect x="832" y="948" width="10" height="23" rx="3" fill="#dadada" stroke="#a8a8a8" stroke-width="0.6"/>
<rect x="842" y="955.5" width="16" height="8" fill="#d8d8d8" stroke="#777" stroke-width="0.6"/>
<path d="M844 956 L846 963 M848 956 L850 963 M852 956 L854 963 M856 956 L858 963" stroke="#666" stroke-width="0.7"/>
<rect x="864" y="915" width="8" height="36" fill="#c8c8c8" stroke="#a0a0a0" stroke-width="0.6"/>
<rect x="857" y="900.7" width="15" height="17" rx="4" fill="#d4d4d4" stroke="#9c9c9c" stroke-width="0.6"/>
<rect x="857" y="948" width="15" height="23" rx="4" fill="#d4d4d4" stroke="#9c9c9c" stroke-width="0.6"/>
<rect x="871.3" y="889.5" width="38" height="92.7" rx="1.5" fill="url(#padblock)" stroke="#9a9a9a" stroke-width="0.8"/>
<rect x="909.4" y="877.3" width="19.5" height="92.7" rx="1.5" fill="url(#drum)"/>
<g transform="translate(928.5 0)"><rect x="0" y="882.5" width="7" height="81.5" fill="url(#knurl)"/></g>
<rect x="935.4" y="876.5" width="49" height="94.5" rx="2" fill="url(#drum)"/>
<line x1="958" y1="915" x2="958" y2="970" stroke="#6a6a6a" stroke-width="1"/>
<circle cx="958" cy="904.2" r="11.3" fill="#fafafa" stroke="#555" stroke-width="1.2"/>
<line x1="958" y1="877" x2="958" y2="893" stroke="#555" stroke-width="0.9"/>
<circle cx="958" cy="882" r="3.3" fill="#a8a8a8" stroke="#555" stroke-width="0.7"/>
<path d="M958 943 L961.5 947 L958 951 L954.5 947 Z" fill="#555"/>
<rect x="985.7" y="908.5" width="32" height="29.5" fill="url(#drum)"/>
<rect x="986" y="910" width="2.5" height="26" fill="#4a4a4a"/>
<path d="M1022 872.4 L1036.2 872.4 Q1053 921 1036.2 969.5 L1021.3 969.5 Q1009.7 921 1022 872.4 Z" fill="url(#disc)" stroke="#8a8a8a" stroke-width="0.7"/>
<path d="M1020 876 Q1013 921 1020 966" fill="none" stroke="#f0f0f0" stroke-width="2"/>
<path d="M1064 936 L1081 936 L1085 944 L1085 973 L1082 982 L1067 982 L1059 972 Q1053.5 958 1059 947 Z" fill="#d0d0d0" stroke="#a0a0a0" stroke-width="0.6"/>
<path d="M1059 950 Q1056 958 1059 966 L1083 966 L1083 950 Z" fill="#e8e8e8"/>
<rect x="1085" y="948" width="10" height="23" rx="3" fill="#dadada" stroke="#a8a8a8" stroke-width="0.6"/>
<rect x="1095" y="955.5" width="16" height="8" fill="#d8d8d8" stroke="#777" stroke-width="0.6"/>
<path d="M1097 956 L1099 963 M1101 956 L1103 963 M1105 956 L1107 963 M1109 956 L1111 963" stroke="#666" stroke-width="0.7"/>
<rect x="1117" y="915" width="8" height="36" fill="#c8c8c8" stroke="#a0a0a0" stroke-width="0.6"/>
<rect x="1110" y="900.7" width="15" height="17" rx="4" fill="#d4d4d4" stroke="#9c9c9c" stroke-width="0.6"/>
<rect x="1110" y="948" width="15" height="23" rx="4" fill="#d4d4d4" stroke="#9c9c9c" stroke-width="0.6"/>
<rect x="1124.3" y="889.5" width="38" height="92.7" rx="1.5" fill="url(#padblock)" stroke="#9a9a9a" stroke-width="0.8"/>
<rect x="1162.4" y="877.3" width="19.5" height="92.7" rx="1.5" fill="url(#drum)"/>
<g transform="translate(1181.5 0)"><rect x="0" y="882.5" width="7" height="81.5" fill="url(#knurl)"/></g>
<rect x="1188.4" y="876.5" width="49" height="94.5" rx="2" fill="url(#drum)"/>
<line x1="1211" y1="915" x2="1211" y2="970" stroke="#6a6a6a" stroke-width="1"/>
<circle cx="1211" cy="904.2" r="11.3" fill="#fafafa" stroke="#555" stroke-width="1.2"/>
<line x1="1211" y1="877" x2="1211" y2="893" stroke="#555" stroke-width="0.9"/>
<circle cx="1211" cy="882" r="3.3" fill="#a8a8a8" stroke="#555" stroke-width="0.7"/>
<path d="M1211 943 L1214.5 947 L1211 951 L1207.5 947 Z" fill="#555"/>
<rect x="1238.7" y="908.5" width="32" height="29.5" fill="url(#drum)"/>
<rect x="1239" y="910" width="2.5" height="26" fill="#4a4a4a"/>
<path d="M1275 872.4 L1289.2 872.4 Q1306 921 1289.2 969.5 L1274.3 969.5 Q1262.7 921 1275 872.4 Z" fill="url(#disc)" stroke="#8a8a8a" stroke-width="0.7"/>
<path d="M1273 876 Q1266 921 1273 966" fill="none" stroke="#f0f0f0" stroke-width="2"/>
<line x1="1086" y1="724" x2="1086" y2="806" stroke="#333" stroke-width="2.6"/>
<circle cx="1086" cy="724" r="4.2" fill="#333"/>
<path d="M1011.5 886 L1011.5 805.5 L1160 805.5 L1160 886" fill="none" stroke="#333" stroke-width="2.6"/>
<g id="bag">
<rect x="224" y="1150.5" width="1047" height="123" rx="5" fill="url(#bag)"/>
<rect x="224" y="1150.5" width="1047" height="4" rx="2" fill="#111"/>
<rect x="226" y="1156" width="3" height="112" fill="#1a1a1a"/>
<rect x="1266" y="1156" width="3" height="112" fill="#1a1a1a"/>
<path d="M365.8 1141.7 L371 1138 L406 1138 L409.5 1142.8 L408.3 1165 L406 1168.5 L383.8 1167.3 L380.3 1162.7 L378 1151 L366.3 1149.8 Z" fill="#363636" stroke="#1a1a1a" stroke-width="0.8"/>
<path d="M367 1139 L373 1139 L377 1149 L367 1149 Z" fill="#5a5a5a"/>
<path d="M727.8 1141.7 L733 1138 L768 1138 L771.5 1142.8 L770.3 1165 L768 1168.5 L745.8 1167.3 L742.3 1162.7 L740 1151 L728.3 1149.8 Z" fill="#363636" stroke="#1a1a1a" stroke-width="0.8"/>
<path d="M729 1139 L735 1139 L739 1149 L729 1149 Z" fill="#5a5a5a"/>
<path d="M1083.8 1141.7 L1089 1138 L1124 1138 L1127.5 1142.8 L1126.3 1165 L1124 1168.5 L1101.8 1167.3 L1098.3 1162.7 L1096 1151 L1084.3 1149.8 Z" fill="#363636" stroke="#1a1a1a" stroke-width="0.8"/>
<path d="M1085 1139 L1091 1139 L1095 1149 L1085 1149 Z" fill="#5a5a5a"/>
<line x1="234" y1="1156" x2="234" y2="1270" stroke="#0e0e0e" stroke-width="1.2" stroke-dasharray="4 2.5"/>
<line x1="266" y1="1156" x2="266" y2="1270" stroke="#0e0e0e" stroke-width="1.2" stroke-dasharray="4 2.5"/>
<line x1="1177" y1="1156" x2="1177" y2="1270" stroke="#0e0e0e" stroke-width="1.2" stroke-dasharray="4 2.5"/>
<line x1="1182" y1="1156" x2="1182" y2="1270" stroke="#0e0e0e" stroke-width="1.2" stroke-dasharray="4 2.5"/>
<line x1="1257" y1="1156" x2="1257" y2="1270" stroke="#0e0e0e" stroke-width="1.2" stroke-dasharray="4 2.5"/>
<path d="M552 1273 L552 1192 L557 1186 L647 1151.5 L700 1126 L728 1114 L740 1106.8 L744.8 1100.4 L747.2 1090.8 L748 1087.6 L756 1086 L764 1086.8 L780 1091.6 L800.6 1101.7 L822.6 1117.8 L852 1144 L888.6 1173.5 L897 1185 L897 1273 L923 1273 L923 1190 L919.4 1189.6 L896 1172 L866.6 1148.6 L837.3 1126.6 L815.3 1104.6 L796 1089 L780 1082 L760 1077.2 L740 1077.2 L720 1082.8 L700 1091.6 L660 1116.4 L585 1148 L577 1166 L577 1273 Z" fill="url(#web)"/>
<path d="M676 1110 Q715 1090 747 1087.6 L744.8 1100.4 L740 1106.8 L728 1114 L700 1126 Z" fill="#383838"/>
<path d="M552 1273 L552 1192 L557 1186 L577 1178 L577 1273 Z" fill="url(#webv)" stroke="#222" stroke-width="0.8"/>
<path d="M897 1273 L897 1185 L919.4 1189.6 L923 1190 L923 1273 Z" fill="url(#webv)" stroke="#222" stroke-width="0.8"/>
<path d="M746 1091 L751 1087 L771 1088.5 L800.6 1101.7 L822.6 1117.8 L852 1144 L888.6 1173.5 L897 1185 L919.4 1189.6 L896 1172 L866.6 1148.6 L837.3 1126.6 L815.3 1104.6 L786 1085.5 L756.7 1077.5 Z" fill="#2e2e2e"/>
<path d="M649.2 1194 H656.4 V1227.8 H649.2 Z M667.8 1194.3 H674.4 V1227.8 H667.8 Z M649.2 1194 H656.4 L674.4 1227.8 H667.2 Z" fill="#f3f3f3"/>
<path d="M701 1198.3 H692 Q681 1198.3 681 1211.5 Q681 1224.8 692 1224.8 H701 M681 1211 H701" fill="none" stroke="#f3f3f3" stroke-width="6.4"/>
<path d="M727 1198.3 H718 Q707.3 1198.3 707.3 1211.5 Q707.3 1224.8 718 1224.8 H727 M707.3 1211 H726" fill="none" stroke="#f3f3f3" stroke-width="6.4"/>
<path d="M727.2 1195.6 H734.4 L739.5 1217 L746.8 1196 H753.2 L760.5 1217 L765.4 1195.6 H772.4 L764.8 1228.4 H757.6 L750 1207 L742.6 1228.4 H735.2 Z" fill="#f3f3f3"/>
<path d="M796.4 1200.3 H787 Q776.4 1200.3 776.4 1212.5 Q776.4 1225.2 787 1225.2 H796.4 M776.4 1212 H795" fill="none" stroke="#f3f3f3" stroke-width="6.4"/>
<path d="M804 1228.4 V1200.3 H815 Q824 1200.3 824 1207.6 Q824 1215 815 1215 H804 M813 1215 L824 1228.4" fill="none" stroke="#f3f3f3" stroke-width="6.4" stroke-linejoin="round"/>
<circle cx="828" cy="1195.6" r="4.6" fill="none" stroke="#e8e8e8" stroke-width="1"/>
<text x="825.6" y="1198.6" font-size="7" font-weight="bold" fill="#e8e8e8">R</text>
</g>
<line x1="918" y1="1273" x2="918" y2="1335" stroke="#333" stroke-width="2.6"/>
<circle cx="918" cy="1335" r="4.2" fill="#333"/>
</svg>
</body></html>
